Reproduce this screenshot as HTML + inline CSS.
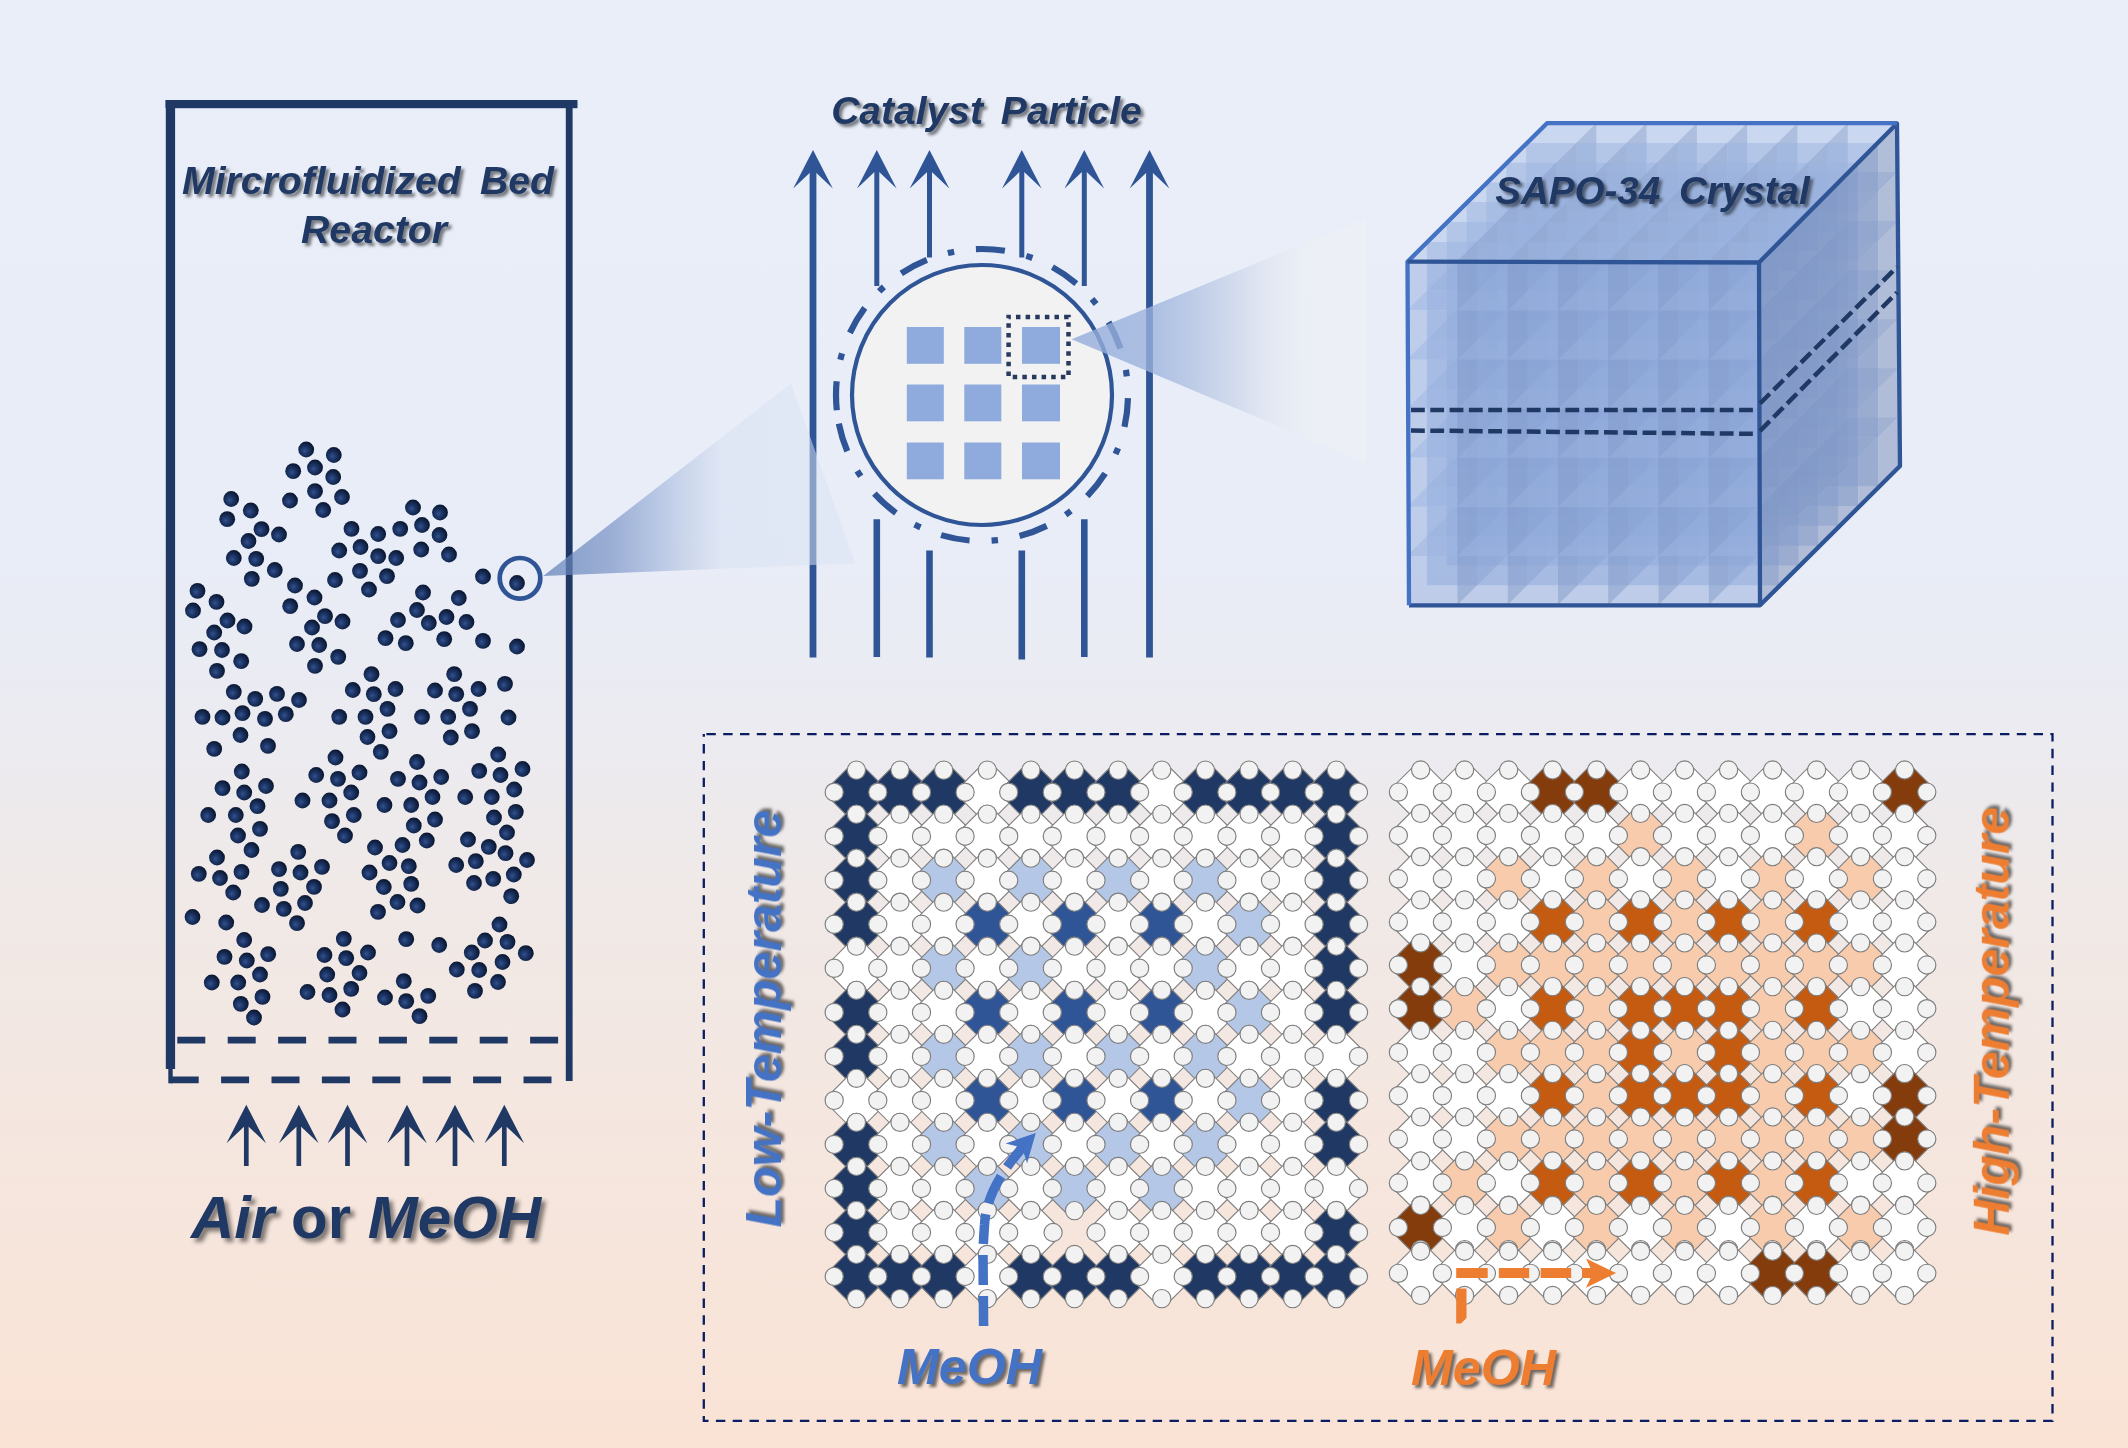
<!DOCTYPE html>
<html><head><meta charset="utf-8"><title>Diagram</title>
<style>html,body{margin:0;padding:0;background:#e9edf8;}body{width:2128px;height:1448px;overflow:hidden;}svg{display:block;}text{font-family:"Liberation Sans",sans-serif;font-weight:bold;font-style:italic;}.sh{filter:drop-shadow(3.2px 3.2px 1.5px rgba(0,0,0,.5));}.sh2{filter:drop-shadow(3.7px 3.7px 1.6px rgba(0,0,0,.55));}.sh3{filter:drop-shadow(4.4px 4.4px 2.2px rgba(0,0,0,.48));}</style></head><body>
<svg width="2128" height="1448" viewBox="0 0 2128 1448">
<defs>
<linearGradient id="bg" x1="0" y1="0" x2="0" y2="1"><stop offset="0" stop-color="#e9eef9"/><stop offset=".36" stop-color="#e8edf8"/><stop offset=".5" stop-color="#ebebf1"/><stop offset=".62" stop-color="#f0e9e7"/><stop offset=".8" stop-color="#f5e6de"/><stop offset="1" stop-color="#fae3d5"/></linearGradient>
<radialGradient id="dg" cx=".41" cy=".58" r=".62"><stop offset="0" stop-color="#35528b"/><stop offset=".28" stop-color="#213c71"/><stop offset=".62" stop-color="#14284f"/><stop offset="1" stop-color="#09132a"/></radialGradient>
<circle id="d" r="7.9" fill="url(#dg)"/>
<g id="cc" fill="#f2f2f2" stroke="#7f7f7f" stroke-width="1.15"><circle cx="0" cy="-22.1" r="9.1"/><circle cx="-22.2" cy="0" r="9.1"/><circle cx="22.2" cy="0" r="9.1"/><circle cx="0" cy="22.1" r="9.1"/></g>
<linearGradient id="c1" gradientUnits="userSpaceOnUse" x1="543" y1="0" x2="855" y2="0"><stop offset="0" stop-color="#5f80b8" stop-opacity="0.73"/><stop offset="0.22" stop-color="#7690c4" stop-opacity="0.68"/><stop offset="0.34" stop-color="#96acd6" stop-opacity="0.65"/><stop offset="0.45" stop-color="#b8c7e4" stop-opacity="0.62"/><stop offset="0.57" stop-color="#d8e1f2" stop-opacity="0.59"/><stop offset="1" stop-color="#dae3f3" stop-opacity="0.5"/></linearGradient>
<linearGradient id="c2" gradientUnits="userSpaceOnUse" x1="1071" y1="0" x2="1366" y2="0"><stop offset="0" stop-color="#93aada" stop-opacity="0.8"/><stop offset="0.27" stop-color="#9bb2dc" stop-opacity="0.78"/><stop offset="0.4" stop-color="#a8bbdf" stop-opacity="0.7"/><stop offset="0.53" stop-color="#c0cde4" stop-opacity="0.65"/><stop offset="0.66" stop-color="#dde2ee" stop-opacity="0.58"/><stop offset="0.8" stop-color="#eef0f3" stop-opacity="0.5"/><stop offset="1" stop-color="#f2f2f3" stop-opacity="0.4"/></linearGradient>
</defs>
<rect width="2128" height="1448" fill="url(#bg)"/>
<g id="reactor">
<rect x="165.5" y="100" width="412" height="8.2" fill="#203864"/>
<rect x="165.8" y="100" width="9.3" height="969" fill="#203864"/>
<rect x="168.3" y="1068" width="4.4" height="15.3" fill="#203864"/>
<rect x="565.8" y="100" width="6.8" height="981" fill="#203864"/>
<path d="M177.3 1040.2H566" stroke="#203864" stroke-width="6.7" stroke-dasharray="28 22.4" fill="none"/>
<path d="M170.7 1079.9H566" stroke="#203864" stroke-width="6.9" stroke-dasharray="28 22.4" fill="none"/>
<use href="#d" x="306.2" y="449.5"/>
<use href="#d" x="333.8" y="455.0"/>
<use href="#d" x="293.2" y="471.2"/>
<use href="#d" x="315.0" y="467.5"/>
<use href="#d" x="333.2" y="477.0"/>
<use href="#d" x="315.0" y="491.2"/>
<use href="#d" x="342.0" y="497.0"/>
<use href="#d" x="290.0" y="500.5"/>
<use href="#d" x="323.2" y="510.0"/>
<use href="#d" x="231.2" y="499.0"/>
<use href="#d" x="250.8" y="510.5"/>
<use href="#d" x="227.2" y="519.2"/>
<use href="#d" x="261.5" y="529.2"/>
<use href="#d" x="279.0" y="534.5"/>
<use href="#d" x="248.5" y="541.0"/>
<use href="#d" x="233.8" y="558.0"/>
<use href="#d" x="256.2" y="558.8"/>
<use href="#d" x="274.8" y="570.0"/>
<use href="#d" x="251.8" y="578.8"/>
<use href="#d" x="351.5" y="528.8"/>
<use href="#d" x="378.2" y="534.0"/>
<use href="#d" x="400.2" y="528.8"/>
<use href="#d" x="413.0" y="507.5"/>
<use href="#d" x="440.0" y="512.5"/>
<use href="#d" x="422.0" y="525.0"/>
<use href="#d" x="439.5" y="535.0"/>
<use href="#d" x="421.2" y="549.5"/>
<use href="#d" x="449.0" y="554.5"/>
<use href="#d" x="339.2" y="550.5"/>
<use href="#d" x="360.5" y="547.0"/>
<use href="#d" x="378.2" y="556.2"/>
<use href="#d" x="396.2" y="558.0"/>
<use href="#d" x="360.0" y="570.8"/>
<use href="#d" x="387.0" y="576.2"/>
<use href="#d" x="335.0" y="580.0"/>
<use href="#d" x="369.0" y="589.5"/>
<use href="#d" x="483.0" y="576.5"/>
<use href="#d" x="517.0" y="583.0"/>
<use href="#d" x="295.0" y="585.5"/>
<use href="#d" x="314.5" y="597.5"/>
<use href="#d" x="290.2" y="606.2"/>
<use href="#d" x="325.0" y="616.2"/>
<use href="#d" x="342.5" y="621.5"/>
<use href="#d" x="312.0" y="627.5"/>
<use href="#d" x="297.0" y="644.0"/>
<use href="#d" x="319.2" y="645.0"/>
<use href="#d" x="338.2" y="656.8"/>
<use href="#d" x="315.0" y="665.8"/>
<use href="#d" x="197.5" y="590.8"/>
<use href="#d" x="216.5" y="601.8"/>
<use href="#d" x="193.0" y="610.5"/>
<use href="#d" x="227.5" y="620.5"/>
<use href="#d" x="244.5" y="626.5"/>
<use href="#d" x="214.2" y="632.5"/>
<use href="#d" x="199.5" y="649.2"/>
<use href="#d" x="222.0" y="650.0"/>
<use href="#d" x="241.2" y="661.2"/>
<use href="#d" x="217.0" y="670.8"/>
<use href="#d" x="423.0" y="592.5"/>
<use href="#d" x="458.8" y="598.0"/>
<use href="#d" x="417.0" y="610.0"/>
<use href="#d" x="398.0" y="620.0"/>
<use href="#d" x="428.8" y="623.0"/>
<use href="#d" x="446.5" y="617.0"/>
<use href="#d" x="466.5" y="622.0"/>
<use href="#d" x="385.5" y="638.2"/>
<use href="#d" x="405.8" y="643.2"/>
<use href="#d" x="444.2" y="639.2"/>
<use href="#d" x="483.0" y="640.8"/>
<use href="#d" x="517.0" y="646.5"/>
<use href="#d" x="371.5" y="674.2"/>
<use href="#d" x="352.8" y="690.0"/>
<use href="#d" x="373.8" y="694.2"/>
<use href="#d" x="395.5" y="689.0"/>
<use href="#d" x="387.5" y="708.8"/>
<use href="#d" x="339.2" y="716.8"/>
<use href="#d" x="365.5" y="716.8"/>
<use href="#d" x="454.2" y="674.2"/>
<use href="#d" x="435.0" y="690.5"/>
<use href="#d" x="456.2" y="694.2"/>
<use href="#d" x="478.5" y="689.0"/>
<use href="#d" x="505.0" y="683.8"/>
<use href="#d" x="470.0" y="708.8"/>
<use href="#d" x="422.0" y="716.8"/>
<use href="#d" x="448.2" y="716.8"/>
<use href="#d" x="508.5" y="717.5"/>
<use href="#d" x="233.8" y="691.8"/>
<use href="#d" x="255.2" y="698.8"/>
<use href="#d" x="277.0" y="693.8"/>
<use href="#d" x="299.0" y="700.0"/>
<use href="#d" x="202.5" y="716.8"/>
<use href="#d" x="222.5" y="717.5"/>
<use href="#d" x="242.5" y="713.2"/>
<use href="#d" x="265.0" y="718.8"/>
<use href="#d" x="285.8" y="714.2"/>
<use href="#d" x="240.5" y="735.0"/>
<use href="#d" x="214.2" y="748.8"/>
<use href="#d" x="268.0" y="745.8"/>
<use href="#d" x="389.5" y="731.2"/>
<use href="#d" x="367.5" y="737.0"/>
<use href="#d" x="380.8" y="751.8"/>
<use href="#d" x="472.0" y="731.2"/>
<use href="#d" x="450.8" y="737.5"/>
<use href="#d" x="335.5" y="757.5"/>
<use href="#d" x="316.2" y="775.0"/>
<use href="#d" x="338.0" y="778.8"/>
<use href="#d" x="359.5" y="772.5"/>
<use href="#d" x="351.2" y="792.5"/>
<use href="#d" x="302.5" y="800.5"/>
<use href="#d" x="329.5" y="800.5"/>
<use href="#d" x="353.8" y="815.0"/>
<use href="#d" x="332.0" y="821.2"/>
<use href="#d" x="345.0" y="835.5"/>
<use href="#d" x="417.0" y="762.0"/>
<use href="#d" x="398.0" y="778.8"/>
<use href="#d" x="419.5" y="782.5"/>
<use href="#d" x="441.2" y="777.0"/>
<use href="#d" x="432.5" y="797.0"/>
<use href="#d" x="384.5" y="805.0"/>
<use href="#d" x="411.2" y="805.0"/>
<use href="#d" x="435.0" y="819.5"/>
<use href="#d" x="413.8" y="825.5"/>
<use href="#d" x="426.8" y="840.5"/>
<use href="#d" x="498.2" y="754.5"/>
<use href="#d" x="479.2" y="770.8"/>
<use href="#d" x="500.5" y="775.0"/>
<use href="#d" x="522.5" y="769.0"/>
<use href="#d" x="514.2" y="789.5"/>
<use href="#d" x="465.2" y="797.0"/>
<use href="#d" x="491.8" y="797.0"/>
<use href="#d" x="515.8" y="811.8"/>
<use href="#d" x="494.0" y="817.5"/>
<use href="#d" x="507.0" y="832.5"/>
<use href="#d" x="241.8" y="771.5"/>
<use href="#d" x="222.5" y="788.2"/>
<use href="#d" x="244.2" y="792.5"/>
<use href="#d" x="266.0" y="786.0"/>
<use href="#d" x="257.5" y="806.2"/>
<use href="#d" x="208.2" y="815.0"/>
<use href="#d" x="235.8" y="815.0"/>
<use href="#d" x="260.0" y="828.8"/>
<use href="#d" x="238.0" y="835.5"/>
<use href="#d" x="251.5" y="850.0"/>
<use href="#d" x="217.0" y="857.5"/>
<use href="#d" x="198.8" y="873.8"/>
<use href="#d" x="220.0" y="878.0"/>
<use href="#d" x="241.5" y="871.8"/>
<use href="#d" x="233.2" y="892.5"/>
<use href="#d" x="298.2" y="851.8"/>
<use href="#d" x="279.0" y="869.2"/>
<use href="#d" x="300.5" y="872.5"/>
<use href="#d" x="322.0" y="866.8"/>
<use href="#d" x="314.0" y="886.8"/>
<use href="#d" x="280.8" y="888.8"/>
<use href="#d" x="262.0" y="905.0"/>
<use href="#d" x="283.8" y="908.8"/>
<use href="#d" x="305.0" y="903.0"/>
<use href="#d" x="297.0" y="923.2"/>
<use href="#d" x="375.0" y="847.5"/>
<use href="#d" x="402.5" y="845.0"/>
<use href="#d" x="389.5" y="863.0"/>
<use href="#d" x="408.8" y="866.2"/>
<use href="#d" x="369.5" y="872.5"/>
<use href="#d" x="383.8" y="887.0"/>
<use href="#d" x="411.2" y="883.8"/>
<use href="#d" x="397.5" y="902.0"/>
<use href="#d" x="417.5" y="905.5"/>
<use href="#d" x="378.0" y="911.8"/>
<use href="#d" x="468.0" y="839.5"/>
<use href="#d" x="488.8" y="846.8"/>
<use href="#d" x="505.5" y="853.2"/>
<use href="#d" x="527.0" y="860.0"/>
<use href="#d" x="456.2" y="865.0"/>
<use href="#d" x="475.8" y="861.2"/>
<use href="#d" x="513.8" y="874.5"/>
<use href="#d" x="493.2" y="878.8"/>
<use href="#d" x="474.0" y="883.0"/>
<use href="#d" x="511.2" y="896.2"/>
<use href="#d" x="192.5" y="917.0"/>
<use href="#d" x="226.2" y="922.5"/>
<use href="#d" x="244.2" y="940.0"/>
<use href="#d" x="224.5" y="956.8"/>
<use href="#d" x="246.8" y="960.5"/>
<use href="#d" x="268.2" y="954.2"/>
<use href="#d" x="260.0" y="974.5"/>
<use href="#d" x="211.8" y="982.5"/>
<use href="#d" x="238.2" y="982.5"/>
<use href="#d" x="262.5" y="996.8"/>
<use href="#d" x="240.8" y="1003.8"/>
<use href="#d" x="254.0" y="1017.5"/>
<use href="#d" x="343.8" y="938.8"/>
<use href="#d" x="324.5" y="955.0"/>
<use href="#d" x="346.2" y="958.2"/>
<use href="#d" x="368.0" y="952.5"/>
<use href="#d" x="359.5" y="973.0"/>
<use href="#d" x="327.2" y="974.5"/>
<use href="#d" x="351.2" y="988.8"/>
<use href="#d" x="307.5" y="992.0"/>
<use href="#d" x="329.5" y="995.0"/>
<use href="#d" x="342.5" y="1009.5"/>
<use href="#d" x="406.2" y="939.2"/>
<use href="#d" x="439.2" y="945.0"/>
<use href="#d" x="403.8" y="981.2"/>
<use href="#d" x="385.0" y="997.5"/>
<use href="#d" x="406.2" y="1001.2"/>
<use href="#d" x="428.2" y="995.8"/>
<use href="#d" x="419.5" y="1016.2"/>
<use href="#d" x="499.5" y="924.5"/>
<use href="#d" x="485.0" y="940.5"/>
<use href="#d" x="507.5" y="941.8"/>
<use href="#d" x="471.8" y="952.5"/>
<use href="#d" x="525.8" y="953.2"/>
<use href="#d" x="502.5" y="962.0"/>
<use href="#d" x="456.8" y="969.5"/>
<use href="#d" x="479.2" y="970.0"/>
<use href="#d" x="498.0" y="982.0"/>
<use href="#d" x="475.0" y="990.8"/>
<circle cx="520" cy="578.3" r="20.3" fill="none" stroke="#2f5597" stroke-width="4.7"/>
<g class="sh" fill="#203864" font-size="39.2" text-anchor="middle"><text x="368" y="194" word-spacing="8.4">Mircrofluidized Bed</text><text x="374" y="243">Reactor</text></g>
<path d="M246.3 1122.5V1166" stroke="#203864" stroke-width="4.7" fill="none"/><path d="M246.3 1104.7L266.1 1143.3L246.3 1124.5L226.5 1143.3Z" fill="#203864"/>
<path d="M298.8 1122.5V1166" stroke="#203864" stroke-width="4.7" fill="none"/><path d="M298.8 1104.7L318.6 1143.3L298.8 1124.5L279.0 1143.3Z" fill="#203864"/>
<path d="M347.5 1122.5V1166" stroke="#203864" stroke-width="4.7" fill="none"/><path d="M347.5 1104.7L367.3 1143.3L347.5 1124.5L327.7 1143.3Z" fill="#203864"/>
<path d="M407 1122.5V1166" stroke="#203864" stroke-width="4.7" fill="none"/><path d="M407 1104.7L426.8 1143.3L407 1124.5L387.2 1143.3Z" fill="#203864"/>
<path d="M455 1122.5V1166" stroke="#203864" stroke-width="4.7" fill="none"/><path d="M455 1104.7L474.8 1143.3L455 1124.5L435.2 1143.3Z" fill="#203864"/>
<path d="M504.3 1122.5V1166" stroke="#203864" stroke-width="4.7" fill="none"/><path d="M504.3 1104.7L524.1 1143.3L504.3 1124.5L484.5 1143.3Z" fill="#203864"/>
<g class="sh3" fill="#203864" font-size="60"><text x="191" y="1237.5">Air <tspan font-style="normal">or</tspan> MeOH</text></g>
</g>
<g id="particle">
<path d="M813 167.8V657.5" stroke="#2f5597" stroke-width="6.8" fill="none"/><path d="M813 150L832.8 188.6L813 169.8L793.2 188.6Z" fill="#2f5597"/>
<path d="M1149.5 167.8V657.5" stroke="#2f5597" stroke-width="6.8" fill="none"/><path d="M1149.5 150L1169.3 188.6L1149.5 169.8L1129.7 188.6Z" fill="#2f5597"/>
<path d="M876.8 167.8V286" stroke="#2f5597" stroke-width="5" fill="none"/><path d="M876.8 150L896.5999999999999 188.6L876.8 169.8L857.0 188.6Z" fill="#2f5597"/>
<path d="M1084.3 167.8V286" stroke="#2f5597" stroke-width="5" fill="none"/><path d="M1084.3 150L1104.1 188.6L1084.3 169.8L1064.5 188.6Z" fill="#2f5597"/>
<path d="M929.5 167.8V257.5" stroke="#2f5597" stroke-width="5" fill="none"/><path d="M929.5 150L949.3 188.6L929.5 169.8L909.7 188.6Z" fill="#2f5597"/>
<path d="M1021.8 167.8V257.5" stroke="#2f5597" stroke-width="5" fill="none"/><path d="M1021.8 150L1041.6 188.6L1021.8 169.8L1002.0 188.6Z" fill="#2f5597"/>
<path d="M876.8 519.3V657M1084.3 519.3V657M929.5 550.5V657.5M1021.8 550.5V659.5" stroke="#2f5597" stroke-width="6.6" fill="none"/>
<circle cx="982" cy="395" r="146" fill="none" stroke="#2f5597" stroke-width="6.2" stroke-dasharray="29 22 6.5 22" transform="rotate(174 982 395)"/>
<circle cx="982" cy="395" r="130" fill="#f2f2f2" stroke="#2f5597" stroke-width="4.2"/>
<rect x="906.8" y="327" width="37" height="36.8" fill="#8faadc"/>
<rect x="964.3" y="327" width="37" height="36.8" fill="#8faadc"/>
<rect x="1022" y="327" width="38" height="36.8" fill="#8faadc"/>
<rect x="906.8" y="384.5" width="37" height="36.8" fill="#8faadc"/>
<rect x="964.3" y="384.5" width="37" height="36.8" fill="#8faadc"/>
<rect x="1022" y="384.5" width="38" height="36.8" fill="#8faadc"/>
<rect x="906.8" y="442.5" width="37" height="36.8" fill="#8faadc"/>
<rect x="964.3" y="442.5" width="37" height="36.8" fill="#8faadc"/>
<rect x="1022" y="442.5" width="38" height="36.8" fill="#8faadc"/>
<path d="M1008.6 317.1H1068.5V377H1008.6Z" fill="none" stroke="#27395f" stroke-width="4.5" stroke-dasharray="4.5 5.13" stroke-dashoffset="2.25"/>
<g class="sh" fill="#203864" font-size="39" text-anchor="middle"><text x="986.5" y="124" word-spacing="7.1">Catalyst Particle</text></g>
</g>
<path d="M543.2 576L791 383.5L855.3 563.2Z" fill="url(#c1)"/>
<path d="M1071.6 339.3L1366 218V463Z" fill="url(#c2)"/>
<g id="cube">
<defs><g id="sc"><path d="M0 0h50.29v49.07h-50.29z" fill="#8faadc"/><path d="M0 0l19.86 -19.79h50.29l-19.86 19.79z" fill="#a9bfe6"/><path d="M50.29 0l19.86 -19.79v49.07l-19.86 19.79z" fill="#7489b5"/></g></defs>
<g opacity="1">
<use href="#sc" x="1526.1" y="437.2" opacity=".47"/>
<use href="#sc" x="1576.4" y="437.2" opacity=".47"/>
<use href="#sc" x="1626.7" y="437.2" opacity=".47"/>
<use href="#sc" x="1677.0" y="437.2" opacity=".47"/>
<use href="#sc" x="1727.3" y="437.2" opacity=".47"/>
<use href="#sc" x="1777.6" y="437.2" opacity=".47"/>
<use href="#sc" x="1827.9" y="437.2" opacity=".47"/>
<use href="#sc" x="1526.1" y="388.1" opacity=".47"/>
<use href="#sc" x="1576.4" y="388.1" opacity=".47"/>
<use href="#sc" x="1626.7" y="388.1" opacity=".47"/>
<use href="#sc" x="1677.0" y="388.1" opacity=".47"/>
<use href="#sc" x="1727.3" y="388.1" opacity=".47"/>
<use href="#sc" x="1777.6" y="388.1" opacity=".47"/>
<use href="#sc" x="1827.9" y="388.1" opacity=".47"/>
<use href="#sc" x="1526.1" y="339.1" opacity=".47"/>
<use href="#sc" x="1576.4" y="339.1" opacity=".47"/>
<use href="#sc" x="1626.7" y="339.1" opacity=".47"/>
<use href="#sc" x="1677.0" y="339.1" opacity=".47"/>
<use href="#sc" x="1727.3" y="339.1" opacity=".47"/>
<use href="#sc" x="1777.6" y="339.1" opacity=".47"/>
<use href="#sc" x="1827.9" y="339.1" opacity=".47"/>
<use href="#sc" x="1526.1" y="290.0" opacity=".47"/>
<use href="#sc" x="1576.4" y="290.0" opacity=".47"/>
<use href="#sc" x="1626.7" y="290.0" opacity=".47"/>
<use href="#sc" x="1677.0" y="290.0" opacity=".47"/>
<use href="#sc" x="1727.3" y="290.0" opacity=".47"/>
<use href="#sc" x="1777.6" y="290.0" opacity=".47"/>
<use href="#sc" x="1827.9" y="290.0" opacity=".47"/>
<use href="#sc" x="1526.1" y="240.9" opacity=".47"/>
<use href="#sc" x="1576.4" y="240.9" opacity=".47"/>
<use href="#sc" x="1626.7" y="240.9" opacity=".47"/>
<use href="#sc" x="1677.0" y="240.9" opacity=".47"/>
<use href="#sc" x="1727.3" y="240.9" opacity=".47"/>
<use href="#sc" x="1777.6" y="240.9" opacity=".47"/>
<use href="#sc" x="1827.9" y="240.9" opacity=".47"/>
<use href="#sc" x="1526.1" y="191.9" opacity=".47"/>
<use href="#sc" x="1576.4" y="191.9" opacity=".47"/>
<use href="#sc" x="1626.7" y="191.9" opacity=".47"/>
<use href="#sc" x="1677.0" y="191.9" opacity=".47"/>
<use href="#sc" x="1727.3" y="191.9" opacity=".47"/>
<use href="#sc" x="1777.6" y="191.9" opacity=".47"/>
<use href="#sc" x="1827.9" y="191.9" opacity=".47"/>
<use href="#sc" x="1526.1" y="142.8" opacity=".47"/>
<use href="#sc" x="1576.4" y="142.8" opacity=".47"/>
<use href="#sc" x="1626.7" y="142.8" opacity=".47"/>
<use href="#sc" x="1677.0" y="142.8" opacity=".47"/>
<use href="#sc" x="1727.3" y="142.8" opacity=".47"/>
<use href="#sc" x="1777.6" y="142.8" opacity=".47"/>
<use href="#sc" x="1827.9" y="142.8" opacity=".47"/>
<use href="#sc" x="1506.3" y="457.0" opacity=".47"/>
<use href="#sc" x="1556.6" y="457.0" opacity=".47"/>
<use href="#sc" x="1606.9" y="457.0" opacity=".47"/>
<use href="#sc" x="1657.1" y="457.0" opacity=".47"/>
<use href="#sc" x="1707.4" y="457.0" opacity=".47"/>
<use href="#sc" x="1757.7" y="457.0" opacity=".47"/>
<use href="#sc" x="1808.0" y="457.0" opacity=".47"/>
<use href="#sc" x="1506.3" y="407.9" opacity=".47"/>
<use href="#sc" x="1556.6" y="407.9" opacity=".47"/>
<use href="#sc" x="1606.9" y="407.9" opacity=".47"/>
<use href="#sc" x="1657.1" y="407.9" opacity=".47"/>
<use href="#sc" x="1707.4" y="407.9" opacity=".47"/>
<use href="#sc" x="1757.7" y="407.9" opacity=".47"/>
<use href="#sc" x="1808.0" y="407.9" opacity=".47"/>
<use href="#sc" x="1506.3" y="358.9" opacity=".47"/>
<use href="#sc" x="1556.6" y="358.9" opacity=".47"/>
<use href="#sc" x="1606.9" y="358.9" opacity=".47"/>
<use href="#sc" x="1657.1" y="358.9" opacity=".47"/>
<use href="#sc" x="1707.4" y="358.9" opacity=".47"/>
<use href="#sc" x="1757.7" y="358.9" opacity=".47"/>
<use href="#sc" x="1808.0" y="358.9" opacity=".47"/>
<use href="#sc" x="1506.3" y="309.8" opacity=".47"/>
<use href="#sc" x="1556.6" y="309.8" opacity=".47"/>
<use href="#sc" x="1606.9" y="309.8" opacity=".47"/>
<use href="#sc" x="1657.1" y="309.8" opacity=".47"/>
<use href="#sc" x="1707.4" y="309.8" opacity=".47"/>
<use href="#sc" x="1757.7" y="309.8" opacity=".47"/>
<use href="#sc" x="1808.0" y="309.8" opacity=".47"/>
<use href="#sc" x="1506.3" y="260.7" opacity=".47"/>
<use href="#sc" x="1556.6" y="260.7" opacity=".47"/>
<use href="#sc" x="1606.9" y="260.7" opacity=".47"/>
<use href="#sc" x="1657.1" y="260.7" opacity=".47"/>
<use href="#sc" x="1707.4" y="260.7" opacity=".47"/>
<use href="#sc" x="1757.7" y="260.7" opacity=".47"/>
<use href="#sc" x="1808.0" y="260.7" opacity=".47"/>
<use href="#sc" x="1506.3" y="211.6" opacity=".47"/>
<use href="#sc" x="1556.6" y="211.6" opacity=".47"/>
<use href="#sc" x="1606.9" y="211.6" opacity=".47"/>
<use href="#sc" x="1657.1" y="211.6" opacity=".47"/>
<use href="#sc" x="1707.4" y="211.6" opacity=".47"/>
<use href="#sc" x="1757.7" y="211.6" opacity=".47"/>
<use href="#sc" x="1808.0" y="211.6" opacity=".47"/>
<use href="#sc" x="1506.3" y="162.6" opacity=".47"/>
<use href="#sc" x="1556.6" y="162.6" opacity=".47"/>
<use href="#sc" x="1606.9" y="162.6" opacity=".47"/>
<use href="#sc" x="1657.1" y="162.6" opacity=".47"/>
<use href="#sc" x="1707.4" y="162.6" opacity=".47"/>
<use href="#sc" x="1757.7" y="162.6" opacity=".47"/>
<use href="#sc" x="1808.0" y="162.6" opacity=".47"/>
<use href="#sc" x="1486.4" y="476.8" opacity=".47"/>
<use href="#sc" x="1536.7" y="476.8" opacity=".47"/>
<use href="#sc" x="1587.0" y="476.8" opacity=".47"/>
<use href="#sc" x="1637.3" y="476.8" opacity=".47"/>
<use href="#sc" x="1687.6" y="476.8" opacity=".47"/>
<use href="#sc" x="1737.9" y="476.8" opacity=".47"/>
<use href="#sc" x="1788.1" y="476.8" opacity=".47"/>
<use href="#sc" x="1486.4" y="427.7" opacity=".47"/>
<use href="#sc" x="1536.7" y="427.7" opacity=".47"/>
<use href="#sc" x="1587.0" y="427.7" opacity=".47"/>
<use href="#sc" x="1637.3" y="427.7" opacity=".47"/>
<use href="#sc" x="1687.6" y="427.7" opacity=".47"/>
<use href="#sc" x="1737.9" y="427.7" opacity=".47"/>
<use href="#sc" x="1788.1" y="427.7" opacity=".47"/>
<use href="#sc" x="1486.4" y="378.6" opacity=".47"/>
<use href="#sc" x="1536.7" y="378.6" opacity=".47"/>
<use href="#sc" x="1587.0" y="378.6" opacity=".47"/>
<use href="#sc" x="1637.3" y="378.6" opacity=".47"/>
<use href="#sc" x="1687.6" y="378.6" opacity=".47"/>
<use href="#sc" x="1737.9" y="378.6" opacity=".47"/>
<use href="#sc" x="1788.1" y="378.6" opacity=".47"/>
<use href="#sc" x="1486.4" y="329.6" opacity=".47"/>
<use href="#sc" x="1536.7" y="329.6" opacity=".47"/>
<use href="#sc" x="1587.0" y="329.6" opacity=".47"/>
<use href="#sc" x="1637.3" y="329.6" opacity=".47"/>
<use href="#sc" x="1687.6" y="329.6" opacity=".47"/>
<use href="#sc" x="1737.9" y="329.6" opacity=".47"/>
<use href="#sc" x="1788.1" y="329.6" opacity=".47"/>
<use href="#sc" x="1486.4" y="280.5" opacity=".47"/>
<use href="#sc" x="1536.7" y="280.5" opacity=".47"/>
<use href="#sc" x="1587.0" y="280.5" opacity=".47"/>
<use href="#sc" x="1637.3" y="280.5" opacity=".47"/>
<use href="#sc" x="1687.6" y="280.5" opacity=".47"/>
<use href="#sc" x="1737.9" y="280.5" opacity=".47"/>
<use href="#sc" x="1788.1" y="280.5" opacity=".47"/>
<use href="#sc" x="1486.4" y="231.4" opacity=".47"/>
<use href="#sc" x="1536.7" y="231.4" opacity=".47"/>
<use href="#sc" x="1587.0" y="231.4" opacity=".47"/>
<use href="#sc" x="1637.3" y="231.4" opacity=".47"/>
<use href="#sc" x="1687.6" y="231.4" opacity=".47"/>
<use href="#sc" x="1737.9" y="231.4" opacity=".47"/>
<use href="#sc" x="1788.1" y="231.4" opacity=".47"/>
<use href="#sc" x="1486.4" y="182.4" opacity=".47"/>
<use href="#sc" x="1536.7" y="182.4" opacity=".47"/>
<use href="#sc" x="1587.0" y="182.4" opacity=".47"/>
<use href="#sc" x="1637.3" y="182.4" opacity=".47"/>
<use href="#sc" x="1687.6" y="182.4" opacity=".47"/>
<use href="#sc" x="1737.9" y="182.4" opacity=".47"/>
<use href="#sc" x="1788.1" y="182.4" opacity=".47"/>
<use href="#sc" x="1466.6" y="496.6" opacity=".47"/>
<use href="#sc" x="1516.9" y="496.6" opacity=".47"/>
<use href="#sc" x="1567.1" y="496.6" opacity=".47"/>
<use href="#sc" x="1617.4" y="496.6" opacity=".47"/>
<use href="#sc" x="1667.7" y="496.6" opacity=".47"/>
<use href="#sc" x="1718.0" y="496.6" opacity=".47"/>
<use href="#sc" x="1768.3" y="496.6" opacity=".47"/>
<use href="#sc" x="1466.6" y="447.5" opacity=".47"/>
<use href="#sc" x="1516.9" y="447.5" opacity=".47"/>
<use href="#sc" x="1567.1" y="447.5" opacity=".47"/>
<use href="#sc" x="1617.4" y="447.5" opacity=".47"/>
<use href="#sc" x="1667.7" y="447.5" opacity=".47"/>
<use href="#sc" x="1718.0" y="447.5" opacity=".47"/>
<use href="#sc" x="1768.3" y="447.5" opacity=".47"/>
<use href="#sc" x="1466.6" y="398.4" opacity=".47"/>
<use href="#sc" x="1516.9" y="398.4" opacity=".47"/>
<use href="#sc" x="1567.1" y="398.4" opacity=".47"/>
<use href="#sc" x="1617.4" y="398.4" opacity=".47"/>
<use href="#sc" x="1667.7" y="398.4" opacity=".47"/>
<use href="#sc" x="1718.0" y="398.4" opacity=".47"/>
<use href="#sc" x="1768.3" y="398.4" opacity=".47"/>
<use href="#sc" x="1466.6" y="349.4" opacity=".47"/>
<use href="#sc" x="1516.9" y="349.4" opacity=".47"/>
<use href="#sc" x="1567.1" y="349.4" opacity=".47"/>
<use href="#sc" x="1617.4" y="349.4" opacity=".47"/>
<use href="#sc" x="1667.7" y="349.4" opacity=".47"/>
<use href="#sc" x="1718.0" y="349.4" opacity=".47"/>
<use href="#sc" x="1768.3" y="349.4" opacity=".47"/>
<use href="#sc" x="1466.6" y="300.3" opacity=".47"/>
<use href="#sc" x="1516.9" y="300.3" opacity=".47"/>
<use href="#sc" x="1567.1" y="300.3" opacity=".47"/>
<use href="#sc" x="1617.4" y="300.3" opacity=".47"/>
<use href="#sc" x="1667.7" y="300.3" opacity=".47"/>
<use href="#sc" x="1718.0" y="300.3" opacity=".47"/>
<use href="#sc" x="1768.3" y="300.3" opacity=".47"/>
<use href="#sc" x="1466.6" y="251.2" opacity=".47"/>
<use href="#sc" x="1516.9" y="251.2" opacity=".47"/>
<use href="#sc" x="1567.1" y="251.2" opacity=".47"/>
<use href="#sc" x="1617.4" y="251.2" opacity=".47"/>
<use href="#sc" x="1667.7" y="251.2" opacity=".47"/>
<use href="#sc" x="1718.0" y="251.2" opacity=".47"/>
<use href="#sc" x="1768.3" y="251.2" opacity=".47"/>
<use href="#sc" x="1466.6" y="202.1" opacity=".47"/>
<use href="#sc" x="1516.9" y="202.1" opacity=".47"/>
<use href="#sc" x="1567.1" y="202.1" opacity=".47"/>
<use href="#sc" x="1617.4" y="202.1" opacity=".47"/>
<use href="#sc" x="1667.7" y="202.1" opacity=".47"/>
<use href="#sc" x="1718.0" y="202.1" opacity=".47"/>
<use href="#sc" x="1768.3" y="202.1" opacity=".47"/>
<use href="#sc" x="1446.7" y="516.4" opacity=".47"/>
<use href="#sc" x="1497.0" y="516.4" opacity=".47"/>
<use href="#sc" x="1547.3" y="516.4" opacity=".47"/>
<use href="#sc" x="1597.6" y="516.4" opacity=".47"/>
<use href="#sc" x="1647.9" y="516.4" opacity=".47"/>
<use href="#sc" x="1698.1" y="516.4" opacity=".47"/>
<use href="#sc" x="1748.4" y="516.4" opacity=".47"/>
<use href="#sc" x="1446.7" y="467.3" opacity=".47"/>
<use href="#sc" x="1497.0" y="467.3" opacity=".47"/>
<use href="#sc" x="1547.3" y="467.3" opacity=".47"/>
<use href="#sc" x="1597.6" y="467.3" opacity=".47"/>
<use href="#sc" x="1647.9" y="467.3" opacity=".47"/>
<use href="#sc" x="1698.1" y="467.3" opacity=".47"/>
<use href="#sc" x="1748.4" y="467.3" opacity=".47"/>
<use href="#sc" x="1446.7" y="418.2" opacity=".47"/>
<use href="#sc" x="1497.0" y="418.2" opacity=".47"/>
<use href="#sc" x="1547.3" y="418.2" opacity=".47"/>
<use href="#sc" x="1597.6" y="418.2" opacity=".47"/>
<use href="#sc" x="1647.9" y="418.2" opacity=".47"/>
<use href="#sc" x="1698.1" y="418.2" opacity=".47"/>
<use href="#sc" x="1748.4" y="418.2" opacity=".47"/>
<use href="#sc" x="1446.7" y="369.1" opacity=".47"/>
<use href="#sc" x="1497.0" y="369.1" opacity=".47"/>
<use href="#sc" x="1547.3" y="369.1" opacity=".47"/>
<use href="#sc" x="1597.6" y="369.1" opacity=".47"/>
<use href="#sc" x="1647.9" y="369.1" opacity=".47"/>
<use href="#sc" x="1698.1" y="369.1" opacity=".47"/>
<use href="#sc" x="1748.4" y="369.1" opacity=".47"/>
<use href="#sc" x="1446.7" y="320.1" opacity=".47"/>
<use href="#sc" x="1497.0" y="320.1" opacity=".47"/>
<use href="#sc" x="1547.3" y="320.1" opacity=".47"/>
<use href="#sc" x="1597.6" y="320.1" opacity=".47"/>
<use href="#sc" x="1647.9" y="320.1" opacity=".47"/>
<use href="#sc" x="1698.1" y="320.1" opacity=".47"/>
<use href="#sc" x="1748.4" y="320.1" opacity=".47"/>
<use href="#sc" x="1446.7" y="271.0" opacity=".47"/>
<use href="#sc" x="1497.0" y="271.0" opacity=".47"/>
<use href="#sc" x="1547.3" y="271.0" opacity=".47"/>
<use href="#sc" x="1597.6" y="271.0" opacity=".47"/>
<use href="#sc" x="1647.9" y="271.0" opacity=".47"/>
<use href="#sc" x="1698.1" y="271.0" opacity=".47"/>
<use href="#sc" x="1748.4" y="271.0" opacity=".47"/>
<use href="#sc" x="1446.7" y="221.9" opacity=".47"/>
<use href="#sc" x="1497.0" y="221.9" opacity=".47"/>
<use href="#sc" x="1547.3" y="221.9" opacity=".47"/>
<use href="#sc" x="1597.6" y="221.9" opacity=".47"/>
<use href="#sc" x="1647.9" y="221.9" opacity=".47"/>
<use href="#sc" x="1698.1" y="221.9" opacity=".47"/>
<use href="#sc" x="1748.4" y="221.9" opacity=".47"/>
<use href="#sc" x="1426.9" y="536.1" opacity=".47"/>
<use href="#sc" x="1477.1" y="536.1" opacity=".47"/>
<use href="#sc" x="1527.4" y="536.1" opacity=".47"/>
<use href="#sc" x="1577.7" y="536.1" opacity=".47"/>
<use href="#sc" x="1628.0" y="536.1" opacity=".47"/>
<use href="#sc" x="1678.3" y="536.1" opacity=".47"/>
<use href="#sc" x="1728.6" y="536.1" opacity=".47"/>
<use href="#sc" x="1426.9" y="487.1" opacity=".47"/>
<use href="#sc" x="1477.1" y="487.1" opacity=".47"/>
<use href="#sc" x="1527.4" y="487.1" opacity=".47"/>
<use href="#sc" x="1577.7" y="487.1" opacity=".47"/>
<use href="#sc" x="1628.0" y="487.1" opacity=".47"/>
<use href="#sc" x="1678.3" y="487.1" opacity=".47"/>
<use href="#sc" x="1728.6" y="487.1" opacity=".47"/>
<use href="#sc" x="1426.9" y="438.0" opacity=".47"/>
<use href="#sc" x="1477.1" y="438.0" opacity=".47"/>
<use href="#sc" x="1527.4" y="438.0" opacity=".47"/>
<use href="#sc" x="1577.7" y="438.0" opacity=".47"/>
<use href="#sc" x="1628.0" y="438.0" opacity=".47"/>
<use href="#sc" x="1678.3" y="438.0" opacity=".47"/>
<use href="#sc" x="1728.6" y="438.0" opacity=".47"/>
<use href="#sc" x="1426.9" y="388.9" opacity=".47"/>
<use href="#sc" x="1477.1" y="388.9" opacity=".47"/>
<use href="#sc" x="1527.4" y="388.9" opacity=".47"/>
<use href="#sc" x="1577.7" y="388.9" opacity=".47"/>
<use href="#sc" x="1628.0" y="388.9" opacity=".47"/>
<use href="#sc" x="1678.3" y="388.9" opacity=".47"/>
<use href="#sc" x="1728.6" y="388.9" opacity=".47"/>
<use href="#sc" x="1426.9" y="339.9" opacity=".47"/>
<use href="#sc" x="1477.1" y="339.9" opacity=".47"/>
<use href="#sc" x="1527.4" y="339.9" opacity=".47"/>
<use href="#sc" x="1577.7" y="339.9" opacity=".47"/>
<use href="#sc" x="1628.0" y="339.9" opacity=".47"/>
<use href="#sc" x="1678.3" y="339.9" opacity=".47"/>
<use href="#sc" x="1728.6" y="339.9" opacity=".47"/>
<use href="#sc" x="1426.9" y="290.8" opacity=".47"/>
<use href="#sc" x="1477.1" y="290.8" opacity=".47"/>
<use href="#sc" x="1527.4" y="290.8" opacity=".47"/>
<use href="#sc" x="1577.7" y="290.8" opacity=".47"/>
<use href="#sc" x="1628.0" y="290.8" opacity=".47"/>
<use href="#sc" x="1678.3" y="290.8" opacity=".47"/>
<use href="#sc" x="1728.6" y="290.8" opacity=".47"/>
<use href="#sc" x="1426.9" y="241.7" opacity=".47"/>
<use href="#sc" x="1477.1" y="241.7" opacity=".47"/>
<use href="#sc" x="1527.4" y="241.7" opacity=".47"/>
<use href="#sc" x="1577.7" y="241.7" opacity=".47"/>
<use href="#sc" x="1628.0" y="241.7" opacity=".47"/>
<use href="#sc" x="1678.3" y="241.7" opacity=".47"/>
<use href="#sc" x="1728.6" y="241.7" opacity=".47"/>
<use href="#sc" x="1407.0" y="555.9" opacity=".47"/>
<use href="#sc" x="1457.3" y="555.9" opacity=".47"/>
<use href="#sc" x="1507.6" y="555.9" opacity=".47"/>
<use href="#sc" x="1557.9" y="555.9" opacity=".47"/>
<use href="#sc" x="1608.1" y="555.9" opacity=".47"/>
<use href="#sc" x="1658.4" y="555.9" opacity=".47"/>
<use href="#sc" x="1708.7" y="555.9" opacity=".47"/>
<use href="#sc" x="1407.0" y="506.9" opacity=".47"/>
<use href="#sc" x="1457.3" y="506.9" opacity=".47"/>
<use href="#sc" x="1507.6" y="506.9" opacity=".47"/>
<use href="#sc" x="1557.9" y="506.9" opacity=".47"/>
<use href="#sc" x="1608.1" y="506.9" opacity=".47"/>
<use href="#sc" x="1658.4" y="506.9" opacity=".47"/>
<use href="#sc" x="1708.7" y="506.9" opacity=".47"/>
<use href="#sc" x="1407.0" y="457.8" opacity=".47"/>
<use href="#sc" x="1457.3" y="457.8" opacity=".47"/>
<use href="#sc" x="1507.6" y="457.8" opacity=".47"/>
<use href="#sc" x="1557.9" y="457.8" opacity=".47"/>
<use href="#sc" x="1608.1" y="457.8" opacity=".47"/>
<use href="#sc" x="1658.4" y="457.8" opacity=".47"/>
<use href="#sc" x="1708.7" y="457.8" opacity=".47"/>
<use href="#sc" x="1407.0" y="408.7" opacity=".47"/>
<use href="#sc" x="1457.3" y="408.7" opacity=".47"/>
<use href="#sc" x="1507.6" y="408.7" opacity=".47"/>
<use href="#sc" x="1557.9" y="408.7" opacity=".47"/>
<use href="#sc" x="1608.1" y="408.7" opacity=".47"/>
<use href="#sc" x="1658.4" y="408.7" opacity=".47"/>
<use href="#sc" x="1708.7" y="408.7" opacity=".47"/>
<use href="#sc" x="1407.0" y="359.6" opacity=".47"/>
<use href="#sc" x="1457.3" y="359.6" opacity=".47"/>
<use href="#sc" x="1507.6" y="359.6" opacity=".47"/>
<use href="#sc" x="1557.9" y="359.6" opacity=".47"/>
<use href="#sc" x="1608.1" y="359.6" opacity=".47"/>
<use href="#sc" x="1658.4" y="359.6" opacity=".47"/>
<use href="#sc" x="1708.7" y="359.6" opacity=".47"/>
<use href="#sc" x="1407.0" y="310.6" opacity=".47"/>
<use href="#sc" x="1457.3" y="310.6" opacity=".47"/>
<use href="#sc" x="1507.6" y="310.6" opacity=".47"/>
<use href="#sc" x="1557.9" y="310.6" opacity=".47"/>
<use href="#sc" x="1608.1" y="310.6" opacity=".47"/>
<use href="#sc" x="1658.4" y="310.6" opacity=".47"/>
<use href="#sc" x="1708.7" y="310.6" opacity=".47"/>
<use href="#sc" x="1407.0" y="261.5" opacity=".47"/>
<use href="#sc" x="1457.3" y="261.5" opacity=".47"/>
<use href="#sc" x="1507.6" y="261.5" opacity=".47"/>
<use href="#sc" x="1557.9" y="261.5" opacity=".47"/>
<use href="#sc" x="1608.1" y="261.5" opacity=".47"/>
<use href="#sc" x="1658.4" y="261.5" opacity=".47"/>
<use href="#sc" x="1708.7" y="261.5" opacity=".47"/>
</g>
<g fill="none" stroke-width="4.3" stroke-linejoin="round"><path d="M1759 262.5L1897 123.5L1900 466L1760 605.3H1409" stroke="#2f5597"/><path d="M1409 605.3L1407.5 261.7L1547 123.2H1897" stroke="#4472c4"/><path d="M1407.5 261.7L1759 262.5L1760 605.3" stroke="#2f5597"/></g>
<g fill="none" stroke="#203864" stroke-width="4.5" stroke-dasharray="13.8 5.5"><path d="M1411 410H1754"/><path d="M1411 430.5L1757 433.8"/><path d="M1760 403.5L1897 267"/><path d="M1760 431L1897 292.5"/></g>
<g class="sh" fill="#203864" font-size="38.6" text-anchor="middle"><text x="1652.5" y="204" word-spacing="8">SAPO-34 Crystal</text></g>
</g>
<g id="panel">
<path d="M703.8 734.1H2052.5V1420.8H703.8Z" fill="none" stroke="#0a1d62" stroke-width="2.3" stroke-dasharray="9.4 7.4" stroke-dashoffset="-2.6"/>
<g transform="translate(856.4,792.2)"><path d="M-2.4 -30.4H2.4L30.4 -2.4V2.4L2.4 30.4H-2.4L-30.4 2.4V-2.4Z" fill="#203864" stroke="#7f7f7f" stroke-width="1.1"/><use href="#cc"/></g>
<g transform="translate(900.0,792.2)"><path d="M-2.4 -30.4H2.4L30.4 -2.4V2.4L2.4 30.4H-2.4L-30.4 2.4V-2.4Z" fill="#203864" stroke="#7f7f7f" stroke-width="1.1"/><use href="#cc"/></g>
<g transform="translate(943.7,792.2)"><path d="M-2.4 -30.4H2.4L30.4 -2.4V2.4L2.4 30.4H-2.4L-30.4 2.4V-2.4Z" fill="#203864" stroke="#7f7f7f" stroke-width="1.1"/><use href="#cc"/></g>
<g transform="translate(987.3,792.2)"><path d="M-2.4 -30.4H2.4L30.4 -2.4V2.4L2.4 30.4H-2.4L-30.4 2.4V-2.4Z" fill="#ffffff" stroke="#7f7f7f" stroke-width="1.1"/><use href="#cc"/></g>
<g transform="translate(1030.9,792.2)"><path d="M-2.4 -30.4H2.4L30.4 -2.4V2.4L2.4 30.4H-2.4L-30.4 2.4V-2.4Z" fill="#203864" stroke="#7f7f7f" stroke-width="1.1"/><use href="#cc"/></g>
<g transform="translate(1074.5,792.2)"><path d="M-2.4 -30.4H2.4L30.4 -2.4V2.4L2.4 30.4H-2.4L-30.4 2.4V-2.4Z" fill="#203864" stroke="#7f7f7f" stroke-width="1.1"/><use href="#cc"/></g>
<g transform="translate(1118.2,792.2)"><path d="M-2.4 -30.4H2.4L30.4 -2.4V2.4L2.4 30.4H-2.4L-30.4 2.4V-2.4Z" fill="#203864" stroke="#7f7f7f" stroke-width="1.1"/><use href="#cc"/></g>
<g transform="translate(1161.8,792.2)"><path d="M-2.4 -30.4H2.4L30.4 -2.4V2.4L2.4 30.4H-2.4L-30.4 2.4V-2.4Z" fill="#ffffff" stroke="#7f7f7f" stroke-width="1.1"/><use href="#cc"/></g>
<g transform="translate(1205.4,792.2)"><path d="M-2.4 -30.4H2.4L30.4 -2.4V2.4L2.4 30.4H-2.4L-30.4 2.4V-2.4Z" fill="#203864" stroke="#7f7f7f" stroke-width="1.1"/><use href="#cc"/></g>
<g transform="translate(1249.1,792.2)"><path d="M-2.4 -30.4H2.4L30.4 -2.4V2.4L2.4 30.4H-2.4L-30.4 2.4V-2.4Z" fill="#203864" stroke="#7f7f7f" stroke-width="1.1"/><use href="#cc"/></g>
<g transform="translate(1292.7,792.2)"><path d="M-2.4 -30.4H2.4L30.4 -2.4V2.4L2.4 30.4H-2.4L-30.4 2.4V-2.4Z" fill="#203864" stroke="#7f7f7f" stroke-width="1.1"/><use href="#cc"/></g>
<g transform="translate(1336.3,792.2)"><path d="M-2.4 -30.4H2.4L30.4 -2.4V2.4L2.4 30.4H-2.4L-30.4 2.4V-2.4Z" fill="#203864" stroke="#7f7f7f" stroke-width="1.1"/><use href="#cc"/></g>
<g transform="translate(856.4,836.2)"><path d="M-2.4 -30.4H2.4L30.4 -2.4V2.4L2.4 30.4H-2.4L-30.4 2.4V-2.4Z" fill="#203864" stroke="#7f7f7f" stroke-width="1.1"/><use href="#cc"/></g>
<g transform="translate(900.0,836.2)"><path d="M-2.4 -30.4H2.4L30.4 -2.4V2.4L2.4 30.4H-2.4L-30.4 2.4V-2.4Z" fill="#ffffff" stroke="#7f7f7f" stroke-width="1.1"/><use href="#cc"/></g>
<g transform="translate(943.7,836.2)"><path d="M-2.4 -30.4H2.4L30.4 -2.4V2.4L2.4 30.4H-2.4L-30.4 2.4V-2.4Z" fill="#ffffff" stroke="#7f7f7f" stroke-width="1.1"/><use href="#cc"/></g>
<g transform="translate(987.3,836.2)"><path d="M-2.4 -30.4H2.4L30.4 -2.4V2.4L2.4 30.4H-2.4L-30.4 2.4V-2.4Z" fill="#ffffff" stroke="#7f7f7f" stroke-width="1.1"/><use href="#cc"/></g>
<g transform="translate(1030.9,836.2)"><path d="M-2.4 -30.4H2.4L30.4 -2.4V2.4L2.4 30.4H-2.4L-30.4 2.4V-2.4Z" fill="#ffffff" stroke="#7f7f7f" stroke-width="1.1"/><use href="#cc"/></g>
<g transform="translate(1074.5,836.2)"><path d="M-2.4 -30.4H2.4L30.4 -2.4V2.4L2.4 30.4H-2.4L-30.4 2.4V-2.4Z" fill="#ffffff" stroke="#7f7f7f" stroke-width="1.1"/><use href="#cc"/></g>
<g transform="translate(1118.2,836.2)"><path d="M-2.4 -30.4H2.4L30.4 -2.4V2.4L2.4 30.4H-2.4L-30.4 2.4V-2.4Z" fill="#ffffff" stroke="#7f7f7f" stroke-width="1.1"/><use href="#cc"/></g>
<g transform="translate(1161.8,836.2)"><path d="M-2.4 -30.4H2.4L30.4 -2.4V2.4L2.4 30.4H-2.4L-30.4 2.4V-2.4Z" fill="#ffffff" stroke="#7f7f7f" stroke-width="1.1"/><use href="#cc"/></g>
<g transform="translate(1205.4,836.2)"><path d="M-2.4 -30.4H2.4L30.4 -2.4V2.4L2.4 30.4H-2.4L-30.4 2.4V-2.4Z" fill="#ffffff" stroke="#7f7f7f" stroke-width="1.1"/><use href="#cc"/></g>
<g transform="translate(1249.1,836.2)"><path d="M-2.4 -30.4H2.4L30.4 -2.4V2.4L2.4 30.4H-2.4L-30.4 2.4V-2.4Z" fill="#ffffff" stroke="#7f7f7f" stroke-width="1.1"/><use href="#cc"/></g>
<g transform="translate(1292.7,836.2)"><path d="M-2.4 -30.4H2.4L30.4 -2.4V2.4L2.4 30.4H-2.4L-30.4 2.4V-2.4Z" fill="#ffffff" stroke="#7f7f7f" stroke-width="1.1"/><use href="#cc"/></g>
<g transform="translate(1336.3,836.2)"><path d="M-2.4 -30.4H2.4L30.4 -2.4V2.4L2.4 30.4H-2.4L-30.4 2.4V-2.4Z" fill="#203864" stroke="#7f7f7f" stroke-width="1.1"/><use href="#cc"/></g>
<g transform="translate(856.4,880.3)"><path d="M-2.4 -30.4H2.4L30.4 -2.4V2.4L2.4 30.4H-2.4L-30.4 2.4V-2.4Z" fill="#203864" stroke="#7f7f7f" stroke-width="1.1"/><use href="#cc"/></g>
<g transform="translate(900.0,880.3)"><path d="M-2.4 -30.4H2.4L30.4 -2.4V2.4L2.4 30.4H-2.4L-30.4 2.4V-2.4Z" fill="#ffffff" stroke="#7f7f7f" stroke-width="1.1"/><use href="#cc"/></g>
<g transform="translate(943.7,880.3)"><path d="M-2.4 -30.4H2.4L30.4 -2.4V2.4L2.4 30.4H-2.4L-30.4 2.4V-2.4Z" fill="#b4c7e7" stroke="#7f7f7f" stroke-width="1.1"/><use href="#cc"/></g>
<g transform="translate(987.3,880.3)"><path d="M-2.4 -30.4H2.4L30.4 -2.4V2.4L2.4 30.4H-2.4L-30.4 2.4V-2.4Z" fill="#ffffff" stroke="#7f7f7f" stroke-width="1.1"/><use href="#cc"/></g>
<g transform="translate(1030.9,880.3)"><path d="M-2.4 -30.4H2.4L30.4 -2.4V2.4L2.4 30.4H-2.4L-30.4 2.4V-2.4Z" fill="#b4c7e7" stroke="#7f7f7f" stroke-width="1.1"/><use href="#cc"/></g>
<g transform="translate(1074.5,880.3)"><path d="M-2.4 -30.4H2.4L30.4 -2.4V2.4L2.4 30.4H-2.4L-30.4 2.4V-2.4Z" fill="#ffffff" stroke="#7f7f7f" stroke-width="1.1"/><use href="#cc"/></g>
<g transform="translate(1118.2,880.3)"><path d="M-2.4 -30.4H2.4L30.4 -2.4V2.4L2.4 30.4H-2.4L-30.4 2.4V-2.4Z" fill="#b4c7e7" stroke="#7f7f7f" stroke-width="1.1"/><use href="#cc"/></g>
<g transform="translate(1161.8,880.3)"><path d="M-2.4 -30.4H2.4L30.4 -2.4V2.4L2.4 30.4H-2.4L-30.4 2.4V-2.4Z" fill="#ffffff" stroke="#7f7f7f" stroke-width="1.1"/><use href="#cc"/></g>
<g transform="translate(1205.4,880.3)"><path d="M-2.4 -30.4H2.4L30.4 -2.4V2.4L2.4 30.4H-2.4L-30.4 2.4V-2.4Z" fill="#b4c7e7" stroke="#7f7f7f" stroke-width="1.1"/><use href="#cc"/></g>
<g transform="translate(1249.1,880.3)"><path d="M-2.4 -30.4H2.4L30.4 -2.4V2.4L2.4 30.4H-2.4L-30.4 2.4V-2.4Z" fill="#ffffff" stroke="#7f7f7f" stroke-width="1.1"/><use href="#cc"/></g>
<g transform="translate(1292.7,880.3)"><path d="M-2.4 -30.4H2.4L30.4 -2.4V2.4L2.4 30.4H-2.4L-30.4 2.4V-2.4Z" fill="#ffffff" stroke="#7f7f7f" stroke-width="1.1"/><use href="#cc"/></g>
<g transform="translate(1336.3,880.3)"><path d="M-2.4 -30.4H2.4L30.4 -2.4V2.4L2.4 30.4H-2.4L-30.4 2.4V-2.4Z" fill="#203864" stroke="#7f7f7f" stroke-width="1.1"/><use href="#cc"/></g>
<g transform="translate(856.4,924.3)"><path d="M-2.4 -30.4H2.4L30.4 -2.4V2.4L2.4 30.4H-2.4L-30.4 2.4V-2.4Z" fill="#203864" stroke="#7f7f7f" stroke-width="1.1"/><use href="#cc"/></g>
<g transform="translate(900.0,924.3)"><path d="M-2.4 -30.4H2.4L30.4 -2.4V2.4L2.4 30.4H-2.4L-30.4 2.4V-2.4Z" fill="#ffffff" stroke="#7f7f7f" stroke-width="1.1"/><use href="#cc"/></g>
<g transform="translate(943.7,924.3)"><path d="M-2.4 -30.4H2.4L30.4 -2.4V2.4L2.4 30.4H-2.4L-30.4 2.4V-2.4Z" fill="#ffffff" stroke="#7f7f7f" stroke-width="1.1"/><use href="#cc"/></g>
<g transform="translate(987.3,924.3)"><path d="M-2.4 -30.4H2.4L30.4 -2.4V2.4L2.4 30.4H-2.4L-30.4 2.4V-2.4Z" fill="#2f5597" stroke="#7f7f7f" stroke-width="1.1"/><use href="#cc"/></g>
<g transform="translate(1030.9,924.3)"><path d="M-2.4 -30.4H2.4L30.4 -2.4V2.4L2.4 30.4H-2.4L-30.4 2.4V-2.4Z" fill="#ffffff" stroke="#7f7f7f" stroke-width="1.1"/><use href="#cc"/></g>
<g transform="translate(1074.5,924.3)"><path d="M-2.4 -30.4H2.4L30.4 -2.4V2.4L2.4 30.4H-2.4L-30.4 2.4V-2.4Z" fill="#2f5597" stroke="#7f7f7f" stroke-width="1.1"/><use href="#cc"/></g>
<g transform="translate(1118.2,924.3)"><path d="M-2.4 -30.4H2.4L30.4 -2.4V2.4L2.4 30.4H-2.4L-30.4 2.4V-2.4Z" fill="#ffffff" stroke="#7f7f7f" stroke-width="1.1"/><use href="#cc"/></g>
<g transform="translate(1161.8,924.3)"><path d="M-2.4 -30.4H2.4L30.4 -2.4V2.4L2.4 30.4H-2.4L-30.4 2.4V-2.4Z" fill="#2f5597" stroke="#7f7f7f" stroke-width="1.1"/><use href="#cc"/></g>
<g transform="translate(1205.4,924.3)"><path d="M-2.4 -30.4H2.4L30.4 -2.4V2.4L2.4 30.4H-2.4L-30.4 2.4V-2.4Z" fill="#ffffff" stroke="#7f7f7f" stroke-width="1.1"/><use href="#cc"/></g>
<g transform="translate(1249.1,924.3)"><path d="M-2.4 -30.4H2.4L30.4 -2.4V2.4L2.4 30.4H-2.4L-30.4 2.4V-2.4Z" fill="#b4c7e7" stroke="#7f7f7f" stroke-width="1.1"/><use href="#cc"/></g>
<g transform="translate(1292.7,924.3)"><path d="M-2.4 -30.4H2.4L30.4 -2.4V2.4L2.4 30.4H-2.4L-30.4 2.4V-2.4Z" fill="#ffffff" stroke="#7f7f7f" stroke-width="1.1"/><use href="#cc"/></g>
<g transform="translate(1336.3,924.3)"><path d="M-2.4 -30.4H2.4L30.4 -2.4V2.4L2.4 30.4H-2.4L-30.4 2.4V-2.4Z" fill="#203864" stroke="#7f7f7f" stroke-width="1.1"/><use href="#cc"/></g>
<g transform="translate(856.4,968.3)"><path d="M-2.4 -30.4H2.4L30.4 -2.4V2.4L2.4 30.4H-2.4L-30.4 2.4V-2.4Z" fill="#ffffff" stroke="#7f7f7f" stroke-width="1.1"/><use href="#cc"/></g>
<g transform="translate(900.0,968.3)"><path d="M-2.4 -30.4H2.4L30.4 -2.4V2.4L2.4 30.4H-2.4L-30.4 2.4V-2.4Z" fill="#ffffff" stroke="#7f7f7f" stroke-width="1.1"/><use href="#cc"/></g>
<g transform="translate(943.7,968.3)"><path d="M-2.4 -30.4H2.4L30.4 -2.4V2.4L2.4 30.4H-2.4L-30.4 2.4V-2.4Z" fill="#b4c7e7" stroke="#7f7f7f" stroke-width="1.1"/><use href="#cc"/></g>
<g transform="translate(987.3,968.3)"><path d="M-2.4 -30.4H2.4L30.4 -2.4V2.4L2.4 30.4H-2.4L-30.4 2.4V-2.4Z" fill="#ffffff" stroke="#7f7f7f" stroke-width="1.1"/><use href="#cc"/></g>
<g transform="translate(1030.9,968.3)"><path d="M-2.4 -30.4H2.4L30.4 -2.4V2.4L2.4 30.4H-2.4L-30.4 2.4V-2.4Z" fill="#b4c7e7" stroke="#7f7f7f" stroke-width="1.1"/><use href="#cc"/></g>
<g transform="translate(1074.5,968.3)"><path d="M-2.4 -30.4H2.4L30.4 -2.4V2.4L2.4 30.4H-2.4L-30.4 2.4V-2.4Z" fill="#ffffff" stroke="#7f7f7f" stroke-width="1.1"/><use href="#cc"/></g>
<g transform="translate(1118.2,968.3)"><path d="M-2.4 -30.4H2.4L30.4 -2.4V2.4L2.4 30.4H-2.4L-30.4 2.4V-2.4Z" fill="#ffffff" stroke="#7f7f7f" stroke-width="1.1"/><use href="#cc"/></g>
<g transform="translate(1161.8,968.3)"><path d="M-2.4 -30.4H2.4L30.4 -2.4V2.4L2.4 30.4H-2.4L-30.4 2.4V-2.4Z" fill="#ffffff" stroke="#7f7f7f" stroke-width="1.1"/><use href="#cc"/></g>
<g transform="translate(1205.4,968.3)"><path d="M-2.4 -30.4H2.4L30.4 -2.4V2.4L2.4 30.4H-2.4L-30.4 2.4V-2.4Z" fill="#b4c7e7" stroke="#7f7f7f" stroke-width="1.1"/><use href="#cc"/></g>
<g transform="translate(1249.1,968.3)"><path d="M-2.4 -30.4H2.4L30.4 -2.4V2.4L2.4 30.4H-2.4L-30.4 2.4V-2.4Z" fill="#ffffff" stroke="#7f7f7f" stroke-width="1.1"/><use href="#cc"/></g>
<g transform="translate(1292.7,968.3)"><path d="M-2.4 -30.4H2.4L30.4 -2.4V2.4L2.4 30.4H-2.4L-30.4 2.4V-2.4Z" fill="#ffffff" stroke="#7f7f7f" stroke-width="1.1"/><use href="#cc"/></g>
<g transform="translate(1336.3,968.3)"><path d="M-2.4 -30.4H2.4L30.4 -2.4V2.4L2.4 30.4H-2.4L-30.4 2.4V-2.4Z" fill="#203864" stroke="#7f7f7f" stroke-width="1.1"/><use href="#cc"/></g>
<g transform="translate(856.4,1012.4)"><path d="M-2.4 -30.4H2.4L30.4 -2.4V2.4L2.4 30.4H-2.4L-30.4 2.4V-2.4Z" fill="#203864" stroke="#7f7f7f" stroke-width="1.1"/><use href="#cc"/></g>
<g transform="translate(900.0,1012.4)"><path d="M-2.4 -30.4H2.4L30.4 -2.4V2.4L2.4 30.4H-2.4L-30.4 2.4V-2.4Z" fill="#ffffff" stroke="#7f7f7f" stroke-width="1.1"/><use href="#cc"/></g>
<g transform="translate(943.7,1012.4)"><path d="M-2.4 -30.4H2.4L30.4 -2.4V2.4L2.4 30.4H-2.4L-30.4 2.4V-2.4Z" fill="#ffffff" stroke="#7f7f7f" stroke-width="1.1"/><use href="#cc"/></g>
<g transform="translate(987.3,1012.4)"><path d="M-2.4 -30.4H2.4L30.4 -2.4V2.4L2.4 30.4H-2.4L-30.4 2.4V-2.4Z" fill="#2f5597" stroke="#7f7f7f" stroke-width="1.1"/><use href="#cc"/></g>
<g transform="translate(1030.9,1012.4)"><path d="M-2.4 -30.4H2.4L30.4 -2.4V2.4L2.4 30.4H-2.4L-30.4 2.4V-2.4Z" fill="#ffffff" stroke="#7f7f7f" stroke-width="1.1"/><use href="#cc"/></g>
<g transform="translate(1074.5,1012.4)"><path d="M-2.4 -30.4H2.4L30.4 -2.4V2.4L2.4 30.4H-2.4L-30.4 2.4V-2.4Z" fill="#2f5597" stroke="#7f7f7f" stroke-width="1.1"/><use href="#cc"/></g>
<g transform="translate(1118.2,1012.4)"><path d="M-2.4 -30.4H2.4L30.4 -2.4V2.4L2.4 30.4H-2.4L-30.4 2.4V-2.4Z" fill="#ffffff" stroke="#7f7f7f" stroke-width="1.1"/><use href="#cc"/></g>
<g transform="translate(1161.8,1012.4)"><path d="M-2.4 -30.4H2.4L30.4 -2.4V2.4L2.4 30.4H-2.4L-30.4 2.4V-2.4Z" fill="#2f5597" stroke="#7f7f7f" stroke-width="1.1"/><use href="#cc"/></g>
<g transform="translate(1205.4,1012.4)"><path d="M-2.4 -30.4H2.4L30.4 -2.4V2.4L2.4 30.4H-2.4L-30.4 2.4V-2.4Z" fill="#ffffff" stroke="#7f7f7f" stroke-width="1.1"/><use href="#cc"/></g>
<g transform="translate(1249.1,1012.4)"><path d="M-2.4 -30.4H2.4L30.4 -2.4V2.4L2.4 30.4H-2.4L-30.4 2.4V-2.4Z" fill="#b4c7e7" stroke="#7f7f7f" stroke-width="1.1"/><use href="#cc"/></g>
<g transform="translate(1292.7,1012.4)"><path d="M-2.4 -30.4H2.4L30.4 -2.4V2.4L2.4 30.4H-2.4L-30.4 2.4V-2.4Z" fill="#ffffff" stroke="#7f7f7f" stroke-width="1.1"/><use href="#cc"/></g>
<g transform="translate(1336.3,1012.4)"><path d="M-2.4 -30.4H2.4L30.4 -2.4V2.4L2.4 30.4H-2.4L-30.4 2.4V-2.4Z" fill="#203864" stroke="#7f7f7f" stroke-width="1.1"/><use href="#cc"/></g>
<g transform="translate(856.4,1056.4)"><path d="M-2.4 -30.4H2.4L30.4 -2.4V2.4L2.4 30.4H-2.4L-30.4 2.4V-2.4Z" fill="#203864" stroke="#7f7f7f" stroke-width="1.1"/><use href="#cc"/></g>
<g transform="translate(900.0,1056.4)"><path d="M-2.4 -30.4H2.4L30.4 -2.4V2.4L2.4 30.4H-2.4L-30.4 2.4V-2.4Z" fill="#ffffff" stroke="#7f7f7f" stroke-width="1.1"/><use href="#cc"/></g>
<g transform="translate(943.7,1056.4)"><path d="M-2.4 -30.4H2.4L30.4 -2.4V2.4L2.4 30.4H-2.4L-30.4 2.4V-2.4Z" fill="#b4c7e7" stroke="#7f7f7f" stroke-width="1.1"/><use href="#cc"/></g>
<g transform="translate(987.3,1056.4)"><path d="M-2.4 -30.4H2.4L30.4 -2.4V2.4L2.4 30.4H-2.4L-30.4 2.4V-2.4Z" fill="#ffffff" stroke="#7f7f7f" stroke-width="1.1"/><use href="#cc"/></g>
<g transform="translate(1030.9,1056.4)"><path d="M-2.4 -30.4H2.4L30.4 -2.4V2.4L2.4 30.4H-2.4L-30.4 2.4V-2.4Z" fill="#b4c7e7" stroke="#7f7f7f" stroke-width="1.1"/><use href="#cc"/></g>
<g transform="translate(1074.5,1056.4)"><path d="M-2.4 -30.4H2.4L30.4 -2.4V2.4L2.4 30.4H-2.4L-30.4 2.4V-2.4Z" fill="#ffffff" stroke="#7f7f7f" stroke-width="1.1"/><use href="#cc"/></g>
<g transform="translate(1118.2,1056.4)"><path d="M-2.4 -30.4H2.4L30.4 -2.4V2.4L2.4 30.4H-2.4L-30.4 2.4V-2.4Z" fill="#b4c7e7" stroke="#7f7f7f" stroke-width="1.1"/><use href="#cc"/></g>
<g transform="translate(1161.8,1056.4)"><path d="M-2.4 -30.4H2.4L30.4 -2.4V2.4L2.4 30.4H-2.4L-30.4 2.4V-2.4Z" fill="#ffffff" stroke="#7f7f7f" stroke-width="1.1"/><use href="#cc"/></g>
<g transform="translate(1205.4,1056.4)"><path d="M-2.4 -30.4H2.4L30.4 -2.4V2.4L2.4 30.4H-2.4L-30.4 2.4V-2.4Z" fill="#b4c7e7" stroke="#7f7f7f" stroke-width="1.1"/><use href="#cc"/></g>
<g transform="translate(1249.1,1056.4)"><path d="M-2.4 -30.4H2.4L30.4 -2.4V2.4L2.4 30.4H-2.4L-30.4 2.4V-2.4Z" fill="#ffffff" stroke="#7f7f7f" stroke-width="1.1"/><use href="#cc"/></g>
<g transform="translate(1292.7,1056.4)"><path d="M-2.4 -30.4H2.4L30.4 -2.4V2.4L2.4 30.4H-2.4L-30.4 2.4V-2.4Z" fill="#ffffff" stroke="#7f7f7f" stroke-width="1.1"/><use href="#cc"/></g>
<g transform="translate(1336.3,1056.4)"><path d="M-2.4 -30.4H2.4L30.4 -2.4V2.4L2.4 30.4H-2.4L-30.4 2.4V-2.4Z" fill="#ffffff" stroke="#7f7f7f" stroke-width="1.1"/><use href="#cc"/></g>
<g transform="translate(856.4,1100.4)"><path d="M-2.4 -30.4H2.4L30.4 -2.4V2.4L2.4 30.4H-2.4L-30.4 2.4V-2.4Z" fill="#ffffff" stroke="#7f7f7f" stroke-width="1.1"/><use href="#cc"/></g>
<g transform="translate(900.0,1100.4)"><path d="M-2.4 -30.4H2.4L30.4 -2.4V2.4L2.4 30.4H-2.4L-30.4 2.4V-2.4Z" fill="#ffffff" stroke="#7f7f7f" stroke-width="1.1"/><use href="#cc"/></g>
<g transform="translate(943.7,1100.4)"><path d="M-2.4 -30.4H2.4L30.4 -2.4V2.4L2.4 30.4H-2.4L-30.4 2.4V-2.4Z" fill="#ffffff" stroke="#7f7f7f" stroke-width="1.1"/><use href="#cc"/></g>
<g transform="translate(987.3,1100.4)"><path d="M-2.4 -30.4H2.4L30.4 -2.4V2.4L2.4 30.4H-2.4L-30.4 2.4V-2.4Z" fill="#2f5597" stroke="#7f7f7f" stroke-width="1.1"/><use href="#cc"/></g>
<g transform="translate(1030.9,1100.4)"><path d="M-2.4 -30.4H2.4L30.4 -2.4V2.4L2.4 30.4H-2.4L-30.4 2.4V-2.4Z" fill="#ffffff" stroke="#7f7f7f" stroke-width="1.1"/><use href="#cc"/></g>
<g transform="translate(1074.5,1100.4)"><path d="M-2.4 -30.4H2.4L30.4 -2.4V2.4L2.4 30.4H-2.4L-30.4 2.4V-2.4Z" fill="#2f5597" stroke="#7f7f7f" stroke-width="1.1"/><use href="#cc"/></g>
<g transform="translate(1118.2,1100.4)"><path d="M-2.4 -30.4H2.4L30.4 -2.4V2.4L2.4 30.4H-2.4L-30.4 2.4V-2.4Z" fill="#ffffff" stroke="#7f7f7f" stroke-width="1.1"/><use href="#cc"/></g>
<g transform="translate(1161.8,1100.4)"><path d="M-2.4 -30.4H2.4L30.4 -2.4V2.4L2.4 30.4H-2.4L-30.4 2.4V-2.4Z" fill="#2f5597" stroke="#7f7f7f" stroke-width="1.1"/><use href="#cc"/></g>
<g transform="translate(1205.4,1100.4)"><path d="M-2.4 -30.4H2.4L30.4 -2.4V2.4L2.4 30.4H-2.4L-30.4 2.4V-2.4Z" fill="#ffffff" stroke="#7f7f7f" stroke-width="1.1"/><use href="#cc"/></g>
<g transform="translate(1249.1,1100.4)"><path d="M-2.4 -30.4H2.4L30.4 -2.4V2.4L2.4 30.4H-2.4L-30.4 2.4V-2.4Z" fill="#b4c7e7" stroke="#7f7f7f" stroke-width="1.1"/><use href="#cc"/></g>
<g transform="translate(1292.7,1100.4)"><path d="M-2.4 -30.4H2.4L30.4 -2.4V2.4L2.4 30.4H-2.4L-30.4 2.4V-2.4Z" fill="#ffffff" stroke="#7f7f7f" stroke-width="1.1"/><use href="#cc"/></g>
<g transform="translate(1336.3,1100.4)"><path d="M-2.4 -30.4H2.4L30.4 -2.4V2.4L2.4 30.4H-2.4L-30.4 2.4V-2.4Z" fill="#203864" stroke="#7f7f7f" stroke-width="1.1"/><use href="#cc"/></g>
<g transform="translate(856.4,1144.4)"><path d="M-2.4 -30.4H2.4L30.4 -2.4V2.4L2.4 30.4H-2.4L-30.4 2.4V-2.4Z" fill="#203864" stroke="#7f7f7f" stroke-width="1.1"/><use href="#cc"/></g>
<g transform="translate(900.0,1144.4)"><path d="M-2.4 -30.4H2.4L30.4 -2.4V2.4L2.4 30.4H-2.4L-30.4 2.4V-2.4Z" fill="#ffffff" stroke="#7f7f7f" stroke-width="1.1"/><use href="#cc"/></g>
<g transform="translate(943.7,1144.4)"><path d="M-2.4 -30.4H2.4L30.4 -2.4V2.4L2.4 30.4H-2.4L-30.4 2.4V-2.4Z" fill="#b4c7e7" stroke="#7f7f7f" stroke-width="1.1"/><use href="#cc"/></g>
<g transform="translate(987.3,1144.4)"><path d="M-2.4 -30.4H2.4L30.4 -2.4V2.4L2.4 30.4H-2.4L-30.4 2.4V-2.4Z" fill="#ffffff" stroke="#7f7f7f" stroke-width="1.1"/><use href="#cc"/></g>
<g transform="translate(1030.9,1144.4)"><path d="M-2.4 -30.4H2.4L30.4 -2.4V2.4L2.4 30.4H-2.4L-30.4 2.4V-2.4Z" fill="#b4c7e7" stroke="#7f7f7f" stroke-width="1.1"/><use href="#cc"/></g>
<g transform="translate(1074.5,1144.4)"><path d="M-2.4 -30.4H2.4L30.4 -2.4V2.4L2.4 30.4H-2.4L-30.4 2.4V-2.4Z" fill="#ffffff" stroke="#7f7f7f" stroke-width="1.1"/><use href="#cc"/></g>
<g transform="translate(1118.2,1144.4)"><path d="M-2.4 -30.4H2.4L30.4 -2.4V2.4L2.4 30.4H-2.4L-30.4 2.4V-2.4Z" fill="#b4c7e7" stroke="#7f7f7f" stroke-width="1.1"/><use href="#cc"/></g>
<g transform="translate(1161.8,1144.4)"><path d="M-2.4 -30.4H2.4L30.4 -2.4V2.4L2.4 30.4H-2.4L-30.4 2.4V-2.4Z" fill="#ffffff" stroke="#7f7f7f" stroke-width="1.1"/><use href="#cc"/></g>
<g transform="translate(1205.4,1144.4)"><path d="M-2.4 -30.4H2.4L30.4 -2.4V2.4L2.4 30.4H-2.4L-30.4 2.4V-2.4Z" fill="#b4c7e7" stroke="#7f7f7f" stroke-width="1.1"/><use href="#cc"/></g>
<g transform="translate(1249.1,1144.4)"><path d="M-2.4 -30.4H2.4L30.4 -2.4V2.4L2.4 30.4H-2.4L-30.4 2.4V-2.4Z" fill="#ffffff" stroke="#7f7f7f" stroke-width="1.1"/><use href="#cc"/></g>
<g transform="translate(1292.7,1144.4)"><path d="M-2.4 -30.4H2.4L30.4 -2.4V2.4L2.4 30.4H-2.4L-30.4 2.4V-2.4Z" fill="#ffffff" stroke="#7f7f7f" stroke-width="1.1"/><use href="#cc"/></g>
<g transform="translate(1336.3,1144.4)"><path d="M-2.4 -30.4H2.4L30.4 -2.4V2.4L2.4 30.4H-2.4L-30.4 2.4V-2.4Z" fill="#203864" stroke="#7f7f7f" stroke-width="1.1"/><use href="#cc"/></g>
<g transform="translate(856.4,1188.5)"><path d="M-2.4 -30.4H2.4L30.4 -2.4V2.4L2.4 30.4H-2.4L-30.4 2.4V-2.4Z" fill="#203864" stroke="#7f7f7f" stroke-width="1.1"/><use href="#cc"/></g>
<g transform="translate(900.0,1188.5)"><path d="M-2.4 -30.4H2.4L30.4 -2.4V2.4L2.4 30.4H-2.4L-30.4 2.4V-2.4Z" fill="#ffffff" stroke="#7f7f7f" stroke-width="1.1"/><use href="#cc"/></g>
<g transform="translate(943.7,1188.5)"><path d="M-2.4 -30.4H2.4L30.4 -2.4V2.4L2.4 30.4H-2.4L-30.4 2.4V-2.4Z" fill="#ffffff" stroke="#7f7f7f" stroke-width="1.1"/><use href="#cc"/></g>
<g transform="translate(987.3,1188.5)"><path d="M-2.4 -30.4H2.4L30.4 -2.4V2.4L2.4 30.4H-2.4L-30.4 2.4V-2.4Z" fill="#b4c7e7" stroke="#7f7f7f" stroke-width="1.1"/><use href="#cc"/></g>
<g transform="translate(1030.9,1188.5)"><path d="M-2.4 -30.4H2.4L30.4 -2.4V2.4L2.4 30.4H-2.4L-30.4 2.4V-2.4Z" fill="#ffffff" stroke="#7f7f7f" stroke-width="1.1"/><use href="#cc"/></g>
<g transform="translate(1074.5,1188.5)"><path d="M-2.4 -30.4H2.4L30.4 -2.4V2.4L2.4 30.4H-2.4L-30.4 2.4V-2.4Z" fill="#b4c7e7" stroke="#7f7f7f" stroke-width="1.1"/><use href="#cc"/></g>
<g transform="translate(1118.2,1188.5)"><path d="M-2.4 -30.4H2.4L30.4 -2.4V2.4L2.4 30.4H-2.4L-30.4 2.4V-2.4Z" fill="#ffffff" stroke="#7f7f7f" stroke-width="1.1"/><use href="#cc"/></g>
<g transform="translate(1161.8,1188.5)"><path d="M-2.4 -30.4H2.4L30.4 -2.4V2.4L2.4 30.4H-2.4L-30.4 2.4V-2.4Z" fill="#b4c7e7" stroke="#7f7f7f" stroke-width="1.1"/><use href="#cc"/></g>
<g transform="translate(1205.4,1188.5)"><path d="M-2.4 -30.4H2.4L30.4 -2.4V2.4L2.4 30.4H-2.4L-30.4 2.4V-2.4Z" fill="#ffffff" stroke="#7f7f7f" stroke-width="1.1"/><use href="#cc"/></g>
<g transform="translate(1249.1,1188.5)"><path d="M-2.4 -30.4H2.4L30.4 -2.4V2.4L2.4 30.4H-2.4L-30.4 2.4V-2.4Z" fill="#ffffff" stroke="#7f7f7f" stroke-width="1.1"/><use href="#cc"/></g>
<g transform="translate(1292.7,1188.5)"><path d="M-2.4 -30.4H2.4L30.4 -2.4V2.4L2.4 30.4H-2.4L-30.4 2.4V-2.4Z" fill="#ffffff" stroke="#7f7f7f" stroke-width="1.1"/><use href="#cc"/></g>
<g transform="translate(1336.3,1188.5)"><path d="M-2.4 -30.4H2.4L30.4 -2.4V2.4L2.4 30.4H-2.4L-30.4 2.4V-2.4Z" fill="#ffffff" stroke="#7f7f7f" stroke-width="1.1"/><use href="#cc"/></g>
<g transform="translate(856.4,1232.5)"><path d="M-2.4 -30.4H2.4L30.4 -2.4V2.4L2.4 30.4H-2.4L-30.4 2.4V-2.4Z" fill="#203864" stroke="#7f7f7f" stroke-width="1.1"/><use href="#cc"/></g>
<g transform="translate(900.0,1232.5)"><path d="M-2.4 -30.4H2.4L30.4 -2.4V2.4L2.4 30.4H-2.4L-30.4 2.4V-2.4Z" fill="#ffffff" stroke="#7f7f7f" stroke-width="1.1"/><use href="#cc"/></g>
<g transform="translate(943.7,1232.5)"><path d="M-2.4 -30.4H2.4L30.4 -2.4V2.4L2.4 30.4H-2.4L-30.4 2.4V-2.4Z" fill="#ffffff" stroke="#7f7f7f" stroke-width="1.1"/><use href="#cc"/></g>
<g transform="translate(987.3,1232.5)"><path d="M-2.4 -30.4H2.4L30.4 -2.4V2.4L2.4 30.4H-2.4L-30.4 2.4V-2.4Z" fill="#ffffff" stroke="#7f7f7f" stroke-width="1.1"/><use href="#cc"/></g>
<g transform="translate(1030.9,1232.5)"><path d="M-2.4 -30.4H2.4L30.4 -2.4V2.4L2.4 30.4H-2.4L-30.4 2.4V-2.4Z" fill="#ffffff" stroke="#7f7f7f" stroke-width="1.1"/><use href="#cc"/></g>
<g transform="translate(1118.2,1232.5)"><path d="M-2.4 -30.4H2.4L30.4 -2.4V2.4L2.4 30.4H-2.4L-30.4 2.4V-2.4Z" fill="#ffffff" stroke="#7f7f7f" stroke-width="1.1"/><use href="#cc"/></g>
<g transform="translate(1161.8,1232.5)"><path d="M-2.4 -30.4H2.4L30.4 -2.4V2.4L2.4 30.4H-2.4L-30.4 2.4V-2.4Z" fill="#ffffff" stroke="#7f7f7f" stroke-width="1.1"/><use href="#cc"/></g>
<g transform="translate(1205.4,1232.5)"><path d="M-2.4 -30.4H2.4L30.4 -2.4V2.4L2.4 30.4H-2.4L-30.4 2.4V-2.4Z" fill="#ffffff" stroke="#7f7f7f" stroke-width="1.1"/><use href="#cc"/></g>
<g transform="translate(1249.1,1232.5)"><path d="M-2.4 -30.4H2.4L30.4 -2.4V2.4L2.4 30.4H-2.4L-30.4 2.4V-2.4Z" fill="#ffffff" stroke="#7f7f7f" stroke-width="1.1"/><use href="#cc"/></g>
<g transform="translate(1292.7,1232.5)"><path d="M-2.4 -30.4H2.4L30.4 -2.4V2.4L2.4 30.4H-2.4L-30.4 2.4V-2.4Z" fill="#ffffff" stroke="#7f7f7f" stroke-width="1.1"/><use href="#cc"/></g>
<g transform="translate(1336.3,1232.5)"><path d="M-2.4 -30.4H2.4L30.4 -2.4V2.4L2.4 30.4H-2.4L-30.4 2.4V-2.4Z" fill="#203864" stroke="#7f7f7f" stroke-width="1.1"/><use href="#cc"/></g>
<g transform="translate(856.4,1276.5)"><path d="M-2.4 -30.4H2.4L30.4 -2.4V2.4L2.4 30.4H-2.4L-30.4 2.4V-2.4Z" fill="#203864" stroke="#7f7f7f" stroke-width="1.1"/><use href="#cc"/></g>
<g transform="translate(900.0,1276.5)"><path d="M-2.4 -30.4H2.4L30.4 -2.4V2.4L2.4 30.4H-2.4L-30.4 2.4V-2.4Z" fill="#203864" stroke="#7f7f7f" stroke-width="1.1"/><use href="#cc"/></g>
<g transform="translate(943.7,1276.5)"><path d="M-2.4 -30.4H2.4L30.4 -2.4V2.4L2.4 30.4H-2.4L-30.4 2.4V-2.4Z" fill="#203864" stroke="#7f7f7f" stroke-width="1.1"/><use href="#cc"/></g>
<g transform="translate(987.3,1276.5)"><path d="M-2.4 -30.4H2.4L30.4 -2.4V2.4L2.4 30.4H-2.4L-30.4 2.4V-2.4Z" fill="#ffffff" stroke="#7f7f7f" stroke-width="1.1"/><use href="#cc"/></g>
<g transform="translate(1030.9,1276.5)"><path d="M-2.4 -30.4H2.4L30.4 -2.4V2.4L2.4 30.4H-2.4L-30.4 2.4V-2.4Z" fill="#203864" stroke="#7f7f7f" stroke-width="1.1"/><use href="#cc"/></g>
<g transform="translate(1074.5,1276.5)"><path d="M-2.4 -30.4H2.4L30.4 -2.4V2.4L2.4 30.4H-2.4L-30.4 2.4V-2.4Z" fill="#203864" stroke="#7f7f7f" stroke-width="1.1"/><use href="#cc"/></g>
<g transform="translate(1118.2,1276.5)"><path d="M-2.4 -30.4H2.4L30.4 -2.4V2.4L2.4 30.4H-2.4L-30.4 2.4V-2.4Z" fill="#203864" stroke="#7f7f7f" stroke-width="1.1"/><use href="#cc"/></g>
<g transform="translate(1161.8,1276.5)"><path d="M-2.4 -30.4H2.4L30.4 -2.4V2.4L2.4 30.4H-2.4L-30.4 2.4V-2.4Z" fill="#ffffff" stroke="#7f7f7f" stroke-width="1.1"/><use href="#cc"/></g>
<g transform="translate(1205.4,1276.5)"><path d="M-2.4 -30.4H2.4L30.4 -2.4V2.4L2.4 30.4H-2.4L-30.4 2.4V-2.4Z" fill="#203864" stroke="#7f7f7f" stroke-width="1.1"/><use href="#cc"/></g>
<g transform="translate(1249.1,1276.5)"><path d="M-2.4 -30.4H2.4L30.4 -2.4V2.4L2.4 30.4H-2.4L-30.4 2.4V-2.4Z" fill="#203864" stroke="#7f7f7f" stroke-width="1.1"/><use href="#cc"/></g>
<g transform="translate(1292.7,1276.5)"><path d="M-2.4 -30.4H2.4L30.4 -2.4V2.4L2.4 30.4H-2.4L-30.4 2.4V-2.4Z" fill="#203864" stroke="#7f7f7f" stroke-width="1.1"/><use href="#cc"/></g>
<g transform="translate(1336.3,1276.5)"><path d="M-2.4 -30.4H2.4L30.4 -2.4V2.4L2.4 30.4H-2.4L-30.4 2.4V-2.4Z" fill="#203864" stroke="#7f7f7f" stroke-width="1.1"/><use href="#cc"/></g>
<g transform="translate(1420.6,792.1)"><path d="M-2.4 -30.4H2.4L30.4 -2.4V2.4L2.4 30.4H-2.4L-30.4 2.4V-2.4Z" fill="#ffffff" stroke="#7f7f7f" stroke-width="1.1"/><use href="#cc"/></g>
<g transform="translate(1464.6,792.1)"><path d="M-2.4 -30.4H2.4L30.4 -2.4V2.4L2.4 30.4H-2.4L-30.4 2.4V-2.4Z" fill="#ffffff" stroke="#7f7f7f" stroke-width="1.1"/><use href="#cc"/></g>
<g transform="translate(1508.6,792.1)"><path d="M-2.4 -30.4H2.4L30.4 -2.4V2.4L2.4 30.4H-2.4L-30.4 2.4V-2.4Z" fill="#ffffff" stroke="#7f7f7f" stroke-width="1.1"/><use href="#cc"/></g>
<g transform="translate(1552.6,792.1)"><path d="M-2.4 -30.4H2.4L30.4 -2.4V2.4L2.4 30.4H-2.4L-30.4 2.4V-2.4Z" fill="#843c0c" stroke="#7f7f7f" stroke-width="1.1"/><use href="#cc"/></g>
<g transform="translate(1596.6,792.1)"><path d="M-2.4 -30.4H2.4L30.4 -2.4V2.4L2.4 30.4H-2.4L-30.4 2.4V-2.4Z" fill="#843c0c" stroke="#7f7f7f" stroke-width="1.1"/><use href="#cc"/></g>
<g transform="translate(1640.6,792.1)"><path d="M-2.4 -30.4H2.4L30.4 -2.4V2.4L2.4 30.4H-2.4L-30.4 2.4V-2.4Z" fill="#ffffff" stroke="#7f7f7f" stroke-width="1.1"/><use href="#cc"/></g>
<g transform="translate(1684.6,792.1)"><path d="M-2.4 -30.4H2.4L30.4 -2.4V2.4L2.4 30.4H-2.4L-30.4 2.4V-2.4Z" fill="#ffffff" stroke="#7f7f7f" stroke-width="1.1"/><use href="#cc"/></g>
<g transform="translate(1728.6,792.1)"><path d="M-2.4 -30.4H2.4L30.4 -2.4V2.4L2.4 30.4H-2.4L-30.4 2.4V-2.4Z" fill="#ffffff" stroke="#7f7f7f" stroke-width="1.1"/><use href="#cc"/></g>
<g transform="translate(1772.6,792.1)"><path d="M-2.4 -30.4H2.4L30.4 -2.4V2.4L2.4 30.4H-2.4L-30.4 2.4V-2.4Z" fill="#ffffff" stroke="#7f7f7f" stroke-width="1.1"/><use href="#cc"/></g>
<g transform="translate(1816.6,792.1)"><path d="M-2.4 -30.4H2.4L30.4 -2.4V2.4L2.4 30.4H-2.4L-30.4 2.4V-2.4Z" fill="#ffffff" stroke="#7f7f7f" stroke-width="1.1"/><use href="#cc"/></g>
<g transform="translate(1860.6,792.1)"><path d="M-2.4 -30.4H2.4L30.4 -2.4V2.4L2.4 30.4H-2.4L-30.4 2.4V-2.4Z" fill="#ffffff" stroke="#7f7f7f" stroke-width="1.1"/><use href="#cc"/></g>
<g transform="translate(1904.6,792.1)"><path d="M-2.4 -30.4H2.4L30.4 -2.4V2.4L2.4 30.4H-2.4L-30.4 2.4V-2.4Z" fill="#843c0c" stroke="#7f7f7f" stroke-width="1.1"/><use href="#cc"/></g>
<g transform="translate(1420.6,835.5)"><path d="M-2.4 -30.4H2.4L30.4 -2.4V2.4L2.4 30.4H-2.4L-30.4 2.4V-2.4Z" fill="#ffffff" stroke="#7f7f7f" stroke-width="1.1"/><use href="#cc"/></g>
<g transform="translate(1464.6,835.5)"><path d="M-2.4 -30.4H2.4L30.4 -2.4V2.4L2.4 30.4H-2.4L-30.4 2.4V-2.4Z" fill="#ffffff" stroke="#7f7f7f" stroke-width="1.1"/><use href="#cc"/></g>
<g transform="translate(1508.6,835.5)"><path d="M-2.4 -30.4H2.4L30.4 -2.4V2.4L2.4 30.4H-2.4L-30.4 2.4V-2.4Z" fill="#ffffff" stroke="#7f7f7f" stroke-width="1.1"/><use href="#cc"/></g>
<g transform="translate(1552.6,835.5)"><path d="M-2.4 -30.4H2.4L30.4 -2.4V2.4L2.4 30.4H-2.4L-30.4 2.4V-2.4Z" fill="#ffffff" stroke="#7f7f7f" stroke-width="1.1"/><use href="#cc"/></g>
<g transform="translate(1596.6,835.5)"><path d="M-2.4 -30.4H2.4L30.4 -2.4V2.4L2.4 30.4H-2.4L-30.4 2.4V-2.4Z" fill="#ffffff" stroke="#7f7f7f" stroke-width="1.1"/><use href="#cc"/></g>
<g transform="translate(1640.6,835.5)"><path d="M-2.4 -30.4H2.4L30.4 -2.4V2.4L2.4 30.4H-2.4L-30.4 2.4V-2.4Z" fill="#f8cbad" stroke="#7f7f7f" stroke-width="1.1"/><use href="#cc"/></g>
<g transform="translate(1684.6,835.5)"><path d="M-2.4 -30.4H2.4L30.4 -2.4V2.4L2.4 30.4H-2.4L-30.4 2.4V-2.4Z" fill="#ffffff" stroke="#7f7f7f" stroke-width="1.1"/><use href="#cc"/></g>
<g transform="translate(1728.6,835.5)"><path d="M-2.4 -30.4H2.4L30.4 -2.4V2.4L2.4 30.4H-2.4L-30.4 2.4V-2.4Z" fill="#ffffff" stroke="#7f7f7f" stroke-width="1.1"/><use href="#cc"/></g>
<g transform="translate(1772.6,835.5)"><path d="M-2.4 -30.4H2.4L30.4 -2.4V2.4L2.4 30.4H-2.4L-30.4 2.4V-2.4Z" fill="#ffffff" stroke="#7f7f7f" stroke-width="1.1"/><use href="#cc"/></g>
<g transform="translate(1816.6,835.5)"><path d="M-2.4 -30.4H2.4L30.4 -2.4V2.4L2.4 30.4H-2.4L-30.4 2.4V-2.4Z" fill="#f8cbad" stroke="#7f7f7f" stroke-width="1.1"/><use href="#cc"/></g>
<g transform="translate(1860.6,835.5)"><path d="M-2.4 -30.4H2.4L30.4 -2.4V2.4L2.4 30.4H-2.4L-30.4 2.4V-2.4Z" fill="#ffffff" stroke="#7f7f7f" stroke-width="1.1"/><use href="#cc"/></g>
<g transform="translate(1904.6,835.5)"><path d="M-2.4 -30.4H2.4L30.4 -2.4V2.4L2.4 30.4H-2.4L-30.4 2.4V-2.4Z" fill="#ffffff" stroke="#7f7f7f" stroke-width="1.1"/><use href="#cc"/></g>
<g transform="translate(1420.6,878.8)"><path d="M-2.4 -30.4H2.4L30.4 -2.4V2.4L2.4 30.4H-2.4L-30.4 2.4V-2.4Z" fill="#ffffff" stroke="#7f7f7f" stroke-width="1.1"/><use href="#cc"/></g>
<g transform="translate(1464.6,878.8)"><path d="M-2.4 -30.4H2.4L30.4 -2.4V2.4L2.4 30.4H-2.4L-30.4 2.4V-2.4Z" fill="#ffffff" stroke="#7f7f7f" stroke-width="1.1"/><use href="#cc"/></g>
<g transform="translate(1508.6,878.8)"><path d="M-2.4 -30.4H2.4L30.4 -2.4V2.4L2.4 30.4H-2.4L-30.4 2.4V-2.4Z" fill="#f8cbad" stroke="#7f7f7f" stroke-width="1.1"/><use href="#cc"/></g>
<g transform="translate(1552.6,878.8)"><path d="M-2.4 -30.4H2.4L30.4 -2.4V2.4L2.4 30.4H-2.4L-30.4 2.4V-2.4Z" fill="#ffffff" stroke="#7f7f7f" stroke-width="1.1"/><use href="#cc"/></g>
<g transform="translate(1596.6,878.8)"><path d="M-2.4 -30.4H2.4L30.4 -2.4V2.4L2.4 30.4H-2.4L-30.4 2.4V-2.4Z" fill="#f8cbad" stroke="#7f7f7f" stroke-width="1.1"/><use href="#cc"/></g>
<g transform="translate(1640.6,878.8)"><path d="M-2.4 -30.4H2.4L30.4 -2.4V2.4L2.4 30.4H-2.4L-30.4 2.4V-2.4Z" fill="#ffffff" stroke="#7f7f7f" stroke-width="1.1"/><use href="#cc"/></g>
<g transform="translate(1684.6,878.8)"><path d="M-2.4 -30.4H2.4L30.4 -2.4V2.4L2.4 30.4H-2.4L-30.4 2.4V-2.4Z" fill="#f8cbad" stroke="#7f7f7f" stroke-width="1.1"/><use href="#cc"/></g>
<g transform="translate(1728.6,878.8)"><path d="M-2.4 -30.4H2.4L30.4 -2.4V2.4L2.4 30.4H-2.4L-30.4 2.4V-2.4Z" fill="#ffffff" stroke="#7f7f7f" stroke-width="1.1"/><use href="#cc"/></g>
<g transform="translate(1772.6,878.8)"><path d="M-2.4 -30.4H2.4L30.4 -2.4V2.4L2.4 30.4H-2.4L-30.4 2.4V-2.4Z" fill="#f8cbad" stroke="#7f7f7f" stroke-width="1.1"/><use href="#cc"/></g>
<g transform="translate(1816.6,878.8)"><path d="M-2.4 -30.4H2.4L30.4 -2.4V2.4L2.4 30.4H-2.4L-30.4 2.4V-2.4Z" fill="#ffffff" stroke="#7f7f7f" stroke-width="1.1"/><use href="#cc"/></g>
<g transform="translate(1860.6,878.8)"><path d="M-2.4 -30.4H2.4L30.4 -2.4V2.4L2.4 30.4H-2.4L-30.4 2.4V-2.4Z" fill="#f8cbad" stroke="#7f7f7f" stroke-width="1.1"/><use href="#cc"/></g>
<g transform="translate(1904.6,878.8)"><path d="M-2.4 -30.4H2.4L30.4 -2.4V2.4L2.4 30.4H-2.4L-30.4 2.4V-2.4Z" fill="#ffffff" stroke="#7f7f7f" stroke-width="1.1"/><use href="#cc"/></g>
<g transform="translate(1420.6,922.0)"><path d="M-2.4 -30.4H2.4L30.4 -2.4V2.4L2.4 30.4H-2.4L-30.4 2.4V-2.4Z" fill="#ffffff" stroke="#7f7f7f" stroke-width="1.1"/><use href="#cc"/></g>
<g transform="translate(1464.6,922.0)"><path d="M-2.4 -30.4H2.4L30.4 -2.4V2.4L2.4 30.4H-2.4L-30.4 2.4V-2.4Z" fill="#ffffff" stroke="#7f7f7f" stroke-width="1.1"/><use href="#cc"/></g>
<g transform="translate(1508.6,922.0)"><path d="M-2.4 -30.4H2.4L30.4 -2.4V2.4L2.4 30.4H-2.4L-30.4 2.4V-2.4Z" fill="#ffffff" stroke="#7f7f7f" stroke-width="1.1"/><use href="#cc"/></g>
<g transform="translate(1552.6,922.0)"><path d="M-2.4 -30.4H2.4L30.4 -2.4V2.4L2.4 30.4H-2.4L-30.4 2.4V-2.4Z" fill="#c55a11" stroke="#7f7f7f" stroke-width="1.1"/><use href="#cc"/></g>
<g transform="translate(1596.6,922.0)"><path d="M-2.4 -30.4H2.4L30.4 -2.4V2.4L2.4 30.4H-2.4L-30.4 2.4V-2.4Z" fill="#f8cbad" stroke="#7f7f7f" stroke-width="1.1"/><use href="#cc"/></g>
<g transform="translate(1640.6,922.0)"><path d="M-2.4 -30.4H2.4L30.4 -2.4V2.4L2.4 30.4H-2.4L-30.4 2.4V-2.4Z" fill="#c55a11" stroke="#7f7f7f" stroke-width="1.1"/><use href="#cc"/></g>
<g transform="translate(1684.6,922.0)"><path d="M-2.4 -30.4H2.4L30.4 -2.4V2.4L2.4 30.4H-2.4L-30.4 2.4V-2.4Z" fill="#f8cbad" stroke="#7f7f7f" stroke-width="1.1"/><use href="#cc"/></g>
<g transform="translate(1728.6,922.0)"><path d="M-2.4 -30.4H2.4L30.4 -2.4V2.4L2.4 30.4H-2.4L-30.4 2.4V-2.4Z" fill="#c55a11" stroke="#7f7f7f" stroke-width="1.1"/><use href="#cc"/></g>
<g transform="translate(1772.6,922.0)"><path d="M-2.4 -30.4H2.4L30.4 -2.4V2.4L2.4 30.4H-2.4L-30.4 2.4V-2.4Z" fill="#f8cbad" stroke="#7f7f7f" stroke-width="1.1"/><use href="#cc"/></g>
<g transform="translate(1816.6,922.0)"><path d="M-2.4 -30.4H2.4L30.4 -2.4V2.4L2.4 30.4H-2.4L-30.4 2.4V-2.4Z" fill="#c55a11" stroke="#7f7f7f" stroke-width="1.1"/><use href="#cc"/></g>
<g transform="translate(1860.6,922.0)"><path d="M-2.4 -30.4H2.4L30.4 -2.4V2.4L2.4 30.4H-2.4L-30.4 2.4V-2.4Z" fill="#ffffff" stroke="#7f7f7f" stroke-width="1.1"/><use href="#cc"/></g>
<g transform="translate(1904.6,922.0)"><path d="M-2.4 -30.4H2.4L30.4 -2.4V2.4L2.4 30.4H-2.4L-30.4 2.4V-2.4Z" fill="#ffffff" stroke="#7f7f7f" stroke-width="1.1"/><use href="#cc"/></g>
<g transform="translate(1420.6,965.0)"><path d="M-2.4 -30.4H2.4L30.4 -2.4V2.4L2.4 30.4H-2.4L-30.4 2.4V-2.4Z" fill="#843c0c" stroke="#7f7f7f" stroke-width="1.1"/><use href="#cc"/></g>
<g transform="translate(1464.6,965.0)"><path d="M-2.4 -30.4H2.4L30.4 -2.4V2.4L2.4 30.4H-2.4L-30.4 2.4V-2.4Z" fill="#ffffff" stroke="#7f7f7f" stroke-width="1.1"/><use href="#cc"/></g>
<g transform="translate(1508.6,965.0)"><path d="M-2.4 -30.4H2.4L30.4 -2.4V2.4L2.4 30.4H-2.4L-30.4 2.4V-2.4Z" fill="#f8cbad" stroke="#7f7f7f" stroke-width="1.1"/><use href="#cc"/></g>
<g transform="translate(1552.6,965.0)"><path d="M-2.4 -30.4H2.4L30.4 -2.4V2.4L2.4 30.4H-2.4L-30.4 2.4V-2.4Z" fill="#f8cbad" stroke="#7f7f7f" stroke-width="1.1"/><use href="#cc"/></g>
<g transform="translate(1596.6,965.0)"><path d="M-2.4 -30.4H2.4L30.4 -2.4V2.4L2.4 30.4H-2.4L-30.4 2.4V-2.4Z" fill="#f8cbad" stroke="#7f7f7f" stroke-width="1.1"/><use href="#cc"/></g>
<g transform="translate(1640.6,965.0)"><path d="M-2.4 -30.4H2.4L30.4 -2.4V2.4L2.4 30.4H-2.4L-30.4 2.4V-2.4Z" fill="#f8cbad" stroke="#7f7f7f" stroke-width="1.1"/><use href="#cc"/></g>
<g transform="translate(1684.6,965.0)"><path d="M-2.4 -30.4H2.4L30.4 -2.4V2.4L2.4 30.4H-2.4L-30.4 2.4V-2.4Z" fill="#f8cbad" stroke="#7f7f7f" stroke-width="1.1"/><use href="#cc"/></g>
<g transform="translate(1728.6,965.0)"><path d="M-2.4 -30.4H2.4L30.4 -2.4V2.4L2.4 30.4H-2.4L-30.4 2.4V-2.4Z" fill="#f8cbad" stroke="#7f7f7f" stroke-width="1.1"/><use href="#cc"/></g>
<g transform="translate(1772.6,965.0)"><path d="M-2.4 -30.4H2.4L30.4 -2.4V2.4L2.4 30.4H-2.4L-30.4 2.4V-2.4Z" fill="#f8cbad" stroke="#7f7f7f" stroke-width="1.1"/><use href="#cc"/></g>
<g transform="translate(1816.6,965.0)"><path d="M-2.4 -30.4H2.4L30.4 -2.4V2.4L2.4 30.4H-2.4L-30.4 2.4V-2.4Z" fill="#f8cbad" stroke="#7f7f7f" stroke-width="1.1"/><use href="#cc"/></g>
<g transform="translate(1860.6,965.0)"><path d="M-2.4 -30.4H2.4L30.4 -2.4V2.4L2.4 30.4H-2.4L-30.4 2.4V-2.4Z" fill="#f8cbad" stroke="#7f7f7f" stroke-width="1.1"/><use href="#cc"/></g>
<g transform="translate(1904.6,965.0)"><path d="M-2.4 -30.4H2.4L30.4 -2.4V2.4L2.4 30.4H-2.4L-30.4 2.4V-2.4Z" fill="#ffffff" stroke="#7f7f7f" stroke-width="1.1"/><use href="#cc"/></g>
<g transform="translate(1420.6,1008.7)"><path d="M-2.4 -30.4H2.4L30.4 -2.4V2.4L2.4 30.4H-2.4L-30.4 2.4V-2.4Z" fill="#843c0c" stroke="#7f7f7f" stroke-width="1.1"/><use href="#cc"/></g>
<g transform="translate(1464.6,1008.7)"><path d="M-2.4 -30.4H2.4L30.4 -2.4V2.4L2.4 30.4H-2.4L-30.4 2.4V-2.4Z" fill="#f8cbad" stroke="#7f7f7f" stroke-width="1.1"/><use href="#cc"/></g>
<g transform="translate(1508.6,1008.7)"><path d="M-2.4 -30.4H2.4L30.4 -2.4V2.4L2.4 30.4H-2.4L-30.4 2.4V-2.4Z" fill="#ffffff" stroke="#7f7f7f" stroke-width="1.1"/><use href="#cc"/></g>
<g transform="translate(1552.6,1008.7)"><path d="M-2.4 -30.4H2.4L30.4 -2.4V2.4L2.4 30.4H-2.4L-30.4 2.4V-2.4Z" fill="#c55a11" stroke="#7f7f7f" stroke-width="1.1"/><use href="#cc"/></g>
<g transform="translate(1596.6,1008.7)"><path d="M-2.4 -30.4H2.4L30.4 -2.4V2.4L2.4 30.4H-2.4L-30.4 2.4V-2.4Z" fill="#f8cbad" stroke="#7f7f7f" stroke-width="1.1"/><use href="#cc"/></g>
<g transform="translate(1640.6,1008.7)"><path d="M-2.4 -30.4H2.4L30.4 -2.4V2.4L2.4 30.4H-2.4L-30.4 2.4V-2.4Z" fill="#c55a11" stroke="#7f7f7f" stroke-width="1.1"/><use href="#cc"/></g>
<g transform="translate(1684.6,1008.7)"><path d="M-2.4 -30.4H2.4L30.4 -2.4V2.4L2.4 30.4H-2.4L-30.4 2.4V-2.4Z" fill="#c55a11" stroke="#7f7f7f" stroke-width="1.1"/><use href="#cc"/></g>
<g transform="translate(1728.6,1008.7)"><path d="M-2.4 -30.4H2.4L30.4 -2.4V2.4L2.4 30.4H-2.4L-30.4 2.4V-2.4Z" fill="#c55a11" stroke="#7f7f7f" stroke-width="1.1"/><use href="#cc"/></g>
<g transform="translate(1772.6,1008.7)"><path d="M-2.4 -30.4H2.4L30.4 -2.4V2.4L2.4 30.4H-2.4L-30.4 2.4V-2.4Z" fill="#f8cbad" stroke="#7f7f7f" stroke-width="1.1"/><use href="#cc"/></g>
<g transform="translate(1816.6,1008.7)"><path d="M-2.4 -30.4H2.4L30.4 -2.4V2.4L2.4 30.4H-2.4L-30.4 2.4V-2.4Z" fill="#c55a11" stroke="#7f7f7f" stroke-width="1.1"/><use href="#cc"/></g>
<g transform="translate(1860.6,1008.7)"><path d="M-2.4 -30.4H2.4L30.4 -2.4V2.4L2.4 30.4H-2.4L-30.4 2.4V-2.4Z" fill="#ffffff" stroke="#7f7f7f" stroke-width="1.1"/><use href="#cc"/></g>
<g transform="translate(1904.6,1008.7)"><path d="M-2.4 -30.4H2.4L30.4 -2.4V2.4L2.4 30.4H-2.4L-30.4 2.4V-2.4Z" fill="#ffffff" stroke="#7f7f7f" stroke-width="1.1"/><use href="#cc"/></g>
<g transform="translate(1420.6,1052.4)"><path d="M-2.4 -30.4H2.4L30.4 -2.4V2.4L2.4 30.4H-2.4L-30.4 2.4V-2.4Z" fill="#ffffff" stroke="#7f7f7f" stroke-width="1.1"/><use href="#cc"/></g>
<g transform="translate(1464.6,1052.4)"><path d="M-2.4 -30.4H2.4L30.4 -2.4V2.4L2.4 30.4H-2.4L-30.4 2.4V-2.4Z" fill="#ffffff" stroke="#7f7f7f" stroke-width="1.1"/><use href="#cc"/></g>
<g transform="translate(1508.6,1052.4)"><path d="M-2.4 -30.4H2.4L30.4 -2.4V2.4L2.4 30.4H-2.4L-30.4 2.4V-2.4Z" fill="#f8cbad" stroke="#7f7f7f" stroke-width="1.1"/><use href="#cc"/></g>
<g transform="translate(1552.6,1052.4)"><path d="M-2.4 -30.4H2.4L30.4 -2.4V2.4L2.4 30.4H-2.4L-30.4 2.4V-2.4Z" fill="#f8cbad" stroke="#7f7f7f" stroke-width="1.1"/><use href="#cc"/></g>
<g transform="translate(1596.6,1052.4)"><path d="M-2.4 -30.4H2.4L30.4 -2.4V2.4L2.4 30.4H-2.4L-30.4 2.4V-2.4Z" fill="#f8cbad" stroke="#7f7f7f" stroke-width="1.1"/><use href="#cc"/></g>
<g transform="translate(1640.6,1052.4)"><path d="M-2.4 -30.4H2.4L30.4 -2.4V2.4L2.4 30.4H-2.4L-30.4 2.4V-2.4Z" fill="#c55a11" stroke="#7f7f7f" stroke-width="1.1"/><use href="#cc"/></g>
<g transform="translate(1684.6,1052.4)"><path d="M-2.4 -30.4H2.4L30.4 -2.4V2.4L2.4 30.4H-2.4L-30.4 2.4V-2.4Z" fill="#f8cbad" stroke="#7f7f7f" stroke-width="1.1"/><use href="#cc"/></g>
<g transform="translate(1728.6,1052.4)"><path d="M-2.4 -30.4H2.4L30.4 -2.4V2.4L2.4 30.4H-2.4L-30.4 2.4V-2.4Z" fill="#c55a11" stroke="#7f7f7f" stroke-width="1.1"/><use href="#cc"/></g>
<g transform="translate(1772.6,1052.4)"><path d="M-2.4 -30.4H2.4L30.4 -2.4V2.4L2.4 30.4H-2.4L-30.4 2.4V-2.4Z" fill="#f8cbad" stroke="#7f7f7f" stroke-width="1.1"/><use href="#cc"/></g>
<g transform="translate(1816.6,1052.4)"><path d="M-2.4 -30.4H2.4L30.4 -2.4V2.4L2.4 30.4H-2.4L-30.4 2.4V-2.4Z" fill="#f8cbad" stroke="#7f7f7f" stroke-width="1.1"/><use href="#cc"/></g>
<g transform="translate(1860.6,1052.4)"><path d="M-2.4 -30.4H2.4L30.4 -2.4V2.4L2.4 30.4H-2.4L-30.4 2.4V-2.4Z" fill="#f8cbad" stroke="#7f7f7f" stroke-width="1.1"/><use href="#cc"/></g>
<g transform="translate(1904.6,1052.4)"><path d="M-2.4 -30.4H2.4L30.4 -2.4V2.4L2.4 30.4H-2.4L-30.4 2.4V-2.4Z" fill="#ffffff" stroke="#7f7f7f" stroke-width="1.1"/><use href="#cc"/></g>
<g transform="translate(1420.6,1095.7)"><path d="M-2.4 -30.4H2.4L30.4 -2.4V2.4L2.4 30.4H-2.4L-30.4 2.4V-2.4Z" fill="#ffffff" stroke="#7f7f7f" stroke-width="1.1"/><use href="#cc"/></g>
<g transform="translate(1464.6,1095.7)"><path d="M-2.4 -30.4H2.4L30.4 -2.4V2.4L2.4 30.4H-2.4L-30.4 2.4V-2.4Z" fill="#ffffff" stroke="#7f7f7f" stroke-width="1.1"/><use href="#cc"/></g>
<g transform="translate(1508.6,1095.7)"><path d="M-2.4 -30.4H2.4L30.4 -2.4V2.4L2.4 30.4H-2.4L-30.4 2.4V-2.4Z" fill="#ffffff" stroke="#7f7f7f" stroke-width="1.1"/><use href="#cc"/></g>
<g transform="translate(1552.6,1095.7)"><path d="M-2.4 -30.4H2.4L30.4 -2.4V2.4L2.4 30.4H-2.4L-30.4 2.4V-2.4Z" fill="#c55a11" stroke="#7f7f7f" stroke-width="1.1"/><use href="#cc"/></g>
<g transform="translate(1596.6,1095.7)"><path d="M-2.4 -30.4H2.4L30.4 -2.4V2.4L2.4 30.4H-2.4L-30.4 2.4V-2.4Z" fill="#f8cbad" stroke="#7f7f7f" stroke-width="1.1"/><use href="#cc"/></g>
<g transform="translate(1640.6,1095.7)"><path d="M-2.4 -30.4H2.4L30.4 -2.4V2.4L2.4 30.4H-2.4L-30.4 2.4V-2.4Z" fill="#c55a11" stroke="#7f7f7f" stroke-width="1.1"/><use href="#cc"/></g>
<g transform="translate(1684.6,1095.7)"><path d="M-2.4 -30.4H2.4L30.4 -2.4V2.4L2.4 30.4H-2.4L-30.4 2.4V-2.4Z" fill="#c55a11" stroke="#7f7f7f" stroke-width="1.1"/><use href="#cc"/></g>
<g transform="translate(1728.6,1095.7)"><path d="M-2.4 -30.4H2.4L30.4 -2.4V2.4L2.4 30.4H-2.4L-30.4 2.4V-2.4Z" fill="#c55a11" stroke="#7f7f7f" stroke-width="1.1"/><use href="#cc"/></g>
<g transform="translate(1772.6,1095.7)"><path d="M-2.4 -30.4H2.4L30.4 -2.4V2.4L2.4 30.4H-2.4L-30.4 2.4V-2.4Z" fill="#f8cbad" stroke="#7f7f7f" stroke-width="1.1"/><use href="#cc"/></g>
<g transform="translate(1816.6,1095.7)"><path d="M-2.4 -30.4H2.4L30.4 -2.4V2.4L2.4 30.4H-2.4L-30.4 2.4V-2.4Z" fill="#c55a11" stroke="#7f7f7f" stroke-width="1.1"/><use href="#cc"/></g>
<g transform="translate(1860.6,1095.7)"><path d="M-2.4 -30.4H2.4L30.4 -2.4V2.4L2.4 30.4H-2.4L-30.4 2.4V-2.4Z" fill="#ffffff" stroke="#7f7f7f" stroke-width="1.1"/><use href="#cc"/></g>
<g transform="translate(1904.6,1095.7)"><path d="M-2.4 -30.4H2.4L30.4 -2.4V2.4L2.4 30.4H-2.4L-30.4 2.4V-2.4Z" fill="#843c0c" stroke="#7f7f7f" stroke-width="1.1"/><use href="#cc"/></g>
<g transform="translate(1420.6,1139.0)"><path d="M-2.4 -30.4H2.4L30.4 -2.4V2.4L2.4 30.4H-2.4L-30.4 2.4V-2.4Z" fill="#ffffff" stroke="#7f7f7f" stroke-width="1.1"/><use href="#cc"/></g>
<g transform="translate(1464.6,1139.0)"><path d="M-2.4 -30.4H2.4L30.4 -2.4V2.4L2.4 30.4H-2.4L-30.4 2.4V-2.4Z" fill="#ffffff" stroke="#7f7f7f" stroke-width="1.1"/><use href="#cc"/></g>
<g transform="translate(1508.6,1139.0)"><path d="M-2.4 -30.4H2.4L30.4 -2.4V2.4L2.4 30.4H-2.4L-30.4 2.4V-2.4Z" fill="#f8cbad" stroke="#7f7f7f" stroke-width="1.1"/><use href="#cc"/></g>
<g transform="translate(1552.6,1139.0)"><path d="M-2.4 -30.4H2.4L30.4 -2.4V2.4L2.4 30.4H-2.4L-30.4 2.4V-2.4Z" fill="#f8cbad" stroke="#7f7f7f" stroke-width="1.1"/><use href="#cc"/></g>
<g transform="translate(1596.6,1139.0)"><path d="M-2.4 -30.4H2.4L30.4 -2.4V2.4L2.4 30.4H-2.4L-30.4 2.4V-2.4Z" fill="#f8cbad" stroke="#7f7f7f" stroke-width="1.1"/><use href="#cc"/></g>
<g transform="translate(1640.6,1139.0)"><path d="M-2.4 -30.4H2.4L30.4 -2.4V2.4L2.4 30.4H-2.4L-30.4 2.4V-2.4Z" fill="#f8cbad" stroke="#7f7f7f" stroke-width="1.1"/><use href="#cc"/></g>
<g transform="translate(1684.6,1139.0)"><path d="M-2.4 -30.4H2.4L30.4 -2.4V2.4L2.4 30.4H-2.4L-30.4 2.4V-2.4Z" fill="#f8cbad" stroke="#7f7f7f" stroke-width="1.1"/><use href="#cc"/></g>
<g transform="translate(1728.6,1139.0)"><path d="M-2.4 -30.4H2.4L30.4 -2.4V2.4L2.4 30.4H-2.4L-30.4 2.4V-2.4Z" fill="#f8cbad" stroke="#7f7f7f" stroke-width="1.1"/><use href="#cc"/></g>
<g transform="translate(1772.6,1139.0)"><path d="M-2.4 -30.4H2.4L30.4 -2.4V2.4L2.4 30.4H-2.4L-30.4 2.4V-2.4Z" fill="#f8cbad" stroke="#7f7f7f" stroke-width="1.1"/><use href="#cc"/></g>
<g transform="translate(1816.6,1139.0)"><path d="M-2.4 -30.4H2.4L30.4 -2.4V2.4L2.4 30.4H-2.4L-30.4 2.4V-2.4Z" fill="#f8cbad" stroke="#7f7f7f" stroke-width="1.1"/><use href="#cc"/></g>
<g transform="translate(1860.6,1139.0)"><path d="M-2.4 -30.4H2.4L30.4 -2.4V2.4L2.4 30.4H-2.4L-30.4 2.4V-2.4Z" fill="#f8cbad" stroke="#7f7f7f" stroke-width="1.1"/><use href="#cc"/></g>
<g transform="translate(1904.6,1139.0)"><path d="M-2.4 -30.4H2.4L30.4 -2.4V2.4L2.4 30.4H-2.4L-30.4 2.4V-2.4Z" fill="#843c0c" stroke="#7f7f7f" stroke-width="1.1"/><use href="#cc"/></g>
<g transform="translate(1420.6,1183.0)"><path d="M-2.4 -30.4H2.4L30.4 -2.4V2.4L2.4 30.4H-2.4L-30.4 2.4V-2.4Z" fill="#ffffff" stroke="#7f7f7f" stroke-width="1.1"/><use href="#cc"/></g>
<g transform="translate(1464.6,1183.0)"><path d="M-2.4 -30.4H2.4L30.4 -2.4V2.4L2.4 30.4H-2.4L-30.4 2.4V-2.4Z" fill="#f8cbad" stroke="#7f7f7f" stroke-width="1.1"/><use href="#cc"/></g>
<g transform="translate(1508.6,1183.0)"><path d="M-2.4 -30.4H2.4L30.4 -2.4V2.4L2.4 30.4H-2.4L-30.4 2.4V-2.4Z" fill="#ffffff" stroke="#7f7f7f" stroke-width="1.1"/><use href="#cc"/></g>
<g transform="translate(1552.6,1183.0)"><path d="M-2.4 -30.4H2.4L30.4 -2.4V2.4L2.4 30.4H-2.4L-30.4 2.4V-2.4Z" fill="#c55a11" stroke="#7f7f7f" stroke-width="1.1"/><use href="#cc"/></g>
<g transform="translate(1596.6,1183.0)"><path d="M-2.4 -30.4H2.4L30.4 -2.4V2.4L2.4 30.4H-2.4L-30.4 2.4V-2.4Z" fill="#f8cbad" stroke="#7f7f7f" stroke-width="1.1"/><use href="#cc"/></g>
<g transform="translate(1640.6,1183.0)"><path d="M-2.4 -30.4H2.4L30.4 -2.4V2.4L2.4 30.4H-2.4L-30.4 2.4V-2.4Z" fill="#c55a11" stroke="#7f7f7f" stroke-width="1.1"/><use href="#cc"/></g>
<g transform="translate(1684.6,1183.0)"><path d="M-2.4 -30.4H2.4L30.4 -2.4V2.4L2.4 30.4H-2.4L-30.4 2.4V-2.4Z" fill="#f8cbad" stroke="#7f7f7f" stroke-width="1.1"/><use href="#cc"/></g>
<g transform="translate(1728.6,1183.0)"><path d="M-2.4 -30.4H2.4L30.4 -2.4V2.4L2.4 30.4H-2.4L-30.4 2.4V-2.4Z" fill="#c55a11" stroke="#7f7f7f" stroke-width="1.1"/><use href="#cc"/></g>
<g transform="translate(1772.6,1183.0)"><path d="M-2.4 -30.4H2.4L30.4 -2.4V2.4L2.4 30.4H-2.4L-30.4 2.4V-2.4Z" fill="#f8cbad" stroke="#7f7f7f" stroke-width="1.1"/><use href="#cc"/></g>
<g transform="translate(1816.6,1183.0)"><path d="M-2.4 -30.4H2.4L30.4 -2.4V2.4L2.4 30.4H-2.4L-30.4 2.4V-2.4Z" fill="#c55a11" stroke="#7f7f7f" stroke-width="1.1"/><use href="#cc"/></g>
<g transform="translate(1860.6,1183.0)"><path d="M-2.4 -30.4H2.4L30.4 -2.4V2.4L2.4 30.4H-2.4L-30.4 2.4V-2.4Z" fill="#ffffff" stroke="#7f7f7f" stroke-width="1.1"/><use href="#cc"/></g>
<g transform="translate(1904.6,1183.0)"><path d="M-2.4 -30.4H2.4L30.4 -2.4V2.4L2.4 30.4H-2.4L-30.4 2.4V-2.4Z" fill="#ffffff" stroke="#7f7f7f" stroke-width="1.1"/><use href="#cc"/></g>
<g transform="translate(1420.6,1227.5)"><path d="M-2.4 -30.4H2.4L30.4 -2.4V2.4L2.4 30.4H-2.4L-30.4 2.4V-2.4Z" fill="#843c0c" stroke="#7f7f7f" stroke-width="1.1"/><use href="#cc"/></g>
<g transform="translate(1464.6,1227.5)"><path d="M-2.4 -30.4H2.4L30.4 -2.4V2.4L2.4 30.4H-2.4L-30.4 2.4V-2.4Z" fill="#ffffff" stroke="#7f7f7f" stroke-width="1.1"/><use href="#cc"/></g>
<g transform="translate(1508.6,1227.5)"><path d="M-2.4 -30.4H2.4L30.4 -2.4V2.4L2.4 30.4H-2.4L-30.4 2.4V-2.4Z" fill="#f8cbad" stroke="#7f7f7f" stroke-width="1.1"/><use href="#cc"/></g>
<g transform="translate(1552.6,1227.5)"><path d="M-2.4 -30.4H2.4L30.4 -2.4V2.4L2.4 30.4H-2.4L-30.4 2.4V-2.4Z" fill="#ffffff" stroke="#7f7f7f" stroke-width="1.1"/><use href="#cc"/></g>
<g transform="translate(1596.6,1227.5)"><path d="M-2.4 -30.4H2.4L30.4 -2.4V2.4L2.4 30.4H-2.4L-30.4 2.4V-2.4Z" fill="#f8cbad" stroke="#7f7f7f" stroke-width="1.1"/><use href="#cc"/></g>
<g transform="translate(1640.6,1227.5)"><path d="M-2.4 -30.4H2.4L30.4 -2.4V2.4L2.4 30.4H-2.4L-30.4 2.4V-2.4Z" fill="#ffffff" stroke="#7f7f7f" stroke-width="1.1"/><use href="#cc"/></g>
<g transform="translate(1684.6,1227.5)"><path d="M-2.4 -30.4H2.4L30.4 -2.4V2.4L2.4 30.4H-2.4L-30.4 2.4V-2.4Z" fill="#f8cbad" stroke="#7f7f7f" stroke-width="1.1"/><use href="#cc"/></g>
<g transform="translate(1728.6,1227.5)"><path d="M-2.4 -30.4H2.4L30.4 -2.4V2.4L2.4 30.4H-2.4L-30.4 2.4V-2.4Z" fill="#ffffff" stroke="#7f7f7f" stroke-width="1.1"/><use href="#cc"/></g>
<g transform="translate(1772.6,1227.5)"><path d="M-2.4 -30.4H2.4L30.4 -2.4V2.4L2.4 30.4H-2.4L-30.4 2.4V-2.4Z" fill="#f8cbad" stroke="#7f7f7f" stroke-width="1.1"/><use href="#cc"/></g>
<g transform="translate(1816.6,1227.5)"><path d="M-2.4 -30.4H2.4L30.4 -2.4V2.4L2.4 30.4H-2.4L-30.4 2.4V-2.4Z" fill="#ffffff" stroke="#7f7f7f" stroke-width="1.1"/><use href="#cc"/></g>
<g transform="translate(1860.6,1227.5)"><path d="M-2.4 -30.4H2.4L30.4 -2.4V2.4L2.4 30.4H-2.4L-30.4 2.4V-2.4Z" fill="#f8cbad" stroke="#7f7f7f" stroke-width="1.1"/><use href="#cc"/></g>
<g transform="translate(1904.6,1227.5)"><path d="M-2.4 -30.4H2.4L30.4 -2.4V2.4L2.4 30.4H-2.4L-30.4 2.4V-2.4Z" fill="#ffffff" stroke="#7f7f7f" stroke-width="1.1"/><use href="#cc"/></g>
<g transform="translate(1420.6,1273.3)"><path d="M-2.4 -30.4H2.4L30.4 -2.4V2.4L2.4 30.4H-2.4L-30.4 2.4V-2.4Z" fill="#ffffff" stroke="#7f7f7f" stroke-width="1.1"/><use href="#cc"/></g>
<g transform="translate(1464.6,1273.3)"><path d="M-2.4 -30.4H2.4L30.4 -2.4V2.4L2.4 30.4H-2.4L-30.4 2.4V-2.4Z" fill="#ffffff" stroke="#7f7f7f" stroke-width="1.1"/><use href="#cc"/></g>
<g transform="translate(1508.6,1273.3)"><path d="M-2.4 -30.4H2.4L30.4 -2.4V2.4L2.4 30.4H-2.4L-30.4 2.4V-2.4Z" fill="#ffffff" stroke="#7f7f7f" stroke-width="1.1"/><use href="#cc"/></g>
<g transform="translate(1552.6,1273.3)"><path d="M-2.4 -30.4H2.4L30.4 -2.4V2.4L2.4 30.4H-2.4L-30.4 2.4V-2.4Z" fill="#ffffff" stroke="#7f7f7f" stroke-width="1.1"/><use href="#cc"/></g>
<g transform="translate(1596.6,1273.3)"><path d="M-2.4 -30.4H2.4L30.4 -2.4V2.4L2.4 30.4H-2.4L-30.4 2.4V-2.4Z" fill="#ffffff" stroke="#7f7f7f" stroke-width="1.1"/><use href="#cc"/></g>
<g transform="translate(1640.6,1273.3)"><path d="M-2.4 -30.4H2.4L30.4 -2.4V2.4L2.4 30.4H-2.4L-30.4 2.4V-2.4Z" fill="#ffffff" stroke="#7f7f7f" stroke-width="1.1"/><use href="#cc"/></g>
<g transform="translate(1684.6,1273.3)"><path d="M-2.4 -30.4H2.4L30.4 -2.4V2.4L2.4 30.4H-2.4L-30.4 2.4V-2.4Z" fill="#ffffff" stroke="#7f7f7f" stroke-width="1.1"/><use href="#cc"/></g>
<g transform="translate(1728.6,1273.3)"><path d="M-2.4 -30.4H2.4L30.4 -2.4V2.4L2.4 30.4H-2.4L-30.4 2.4V-2.4Z" fill="#ffffff" stroke="#7f7f7f" stroke-width="1.1"/><use href="#cc"/></g>
<g transform="translate(1772.6,1273.3)"><path d="M-2.4 -30.4H2.4L30.4 -2.4V2.4L2.4 30.4H-2.4L-30.4 2.4V-2.4Z" fill="#843c0c" stroke="#7f7f7f" stroke-width="1.1"/><use href="#cc"/></g>
<g transform="translate(1816.6,1273.3)"><path d="M-2.4 -30.4H2.4L30.4 -2.4V2.4L2.4 30.4H-2.4L-30.4 2.4V-2.4Z" fill="#843c0c" stroke="#7f7f7f" stroke-width="1.1"/><use href="#cc"/></g>
<g transform="translate(1860.6,1273.3)"><path d="M-2.4 -30.4H2.4L30.4 -2.4V2.4L2.4 30.4H-2.4L-30.4 2.4V-2.4Z" fill="#ffffff" stroke="#7f7f7f" stroke-width="1.1"/><use href="#cc"/></g>
<g transform="translate(1904.6,1273.3)"><path d="M-2.4 -30.4H2.4L30.4 -2.4V2.4L2.4 30.4H-2.4L-30.4 2.4V-2.4Z" fill="#ffffff" stroke="#7f7f7f" stroke-width="1.1"/><use href="#cc"/></g>
<path d="M983.6 1326L983 1255C983.2 1245 983.8 1235 984.5 1225C986 1192 1008.2 1163.5 1028 1141" fill="none" stroke="#4472c4" stroke-width="9.5" stroke-dasharray="30 11"/>
<path d="M1035.8 1133L1005.6 1143.4L1022 1147.6L1027.1 1163.2Z" fill="#4472c4"/>
<path d="M1456.2 1288.4H1466.5V1318L1461 1323.4H1456.2ZM1456.2 1268.1H1487.7V1278H1456.2ZM1498.8 1268.1H1529.2V1278H1498.8ZM1540.6 1268.1H1571.2V1278H1540.6ZM1582 1268.1H1594V1278H1582Z" fill="#ed7d31"/>
<path d="M1616.1 1273.1L1586 1258.6L1592.9 1273.1L1586 1287.7Z" fill="#ed7d31"/>
<g class="sh2" fill="#4472c4" font-size="50.2"><text x="897" y="1384">MeOH</text></g>
<g class="sh2" fill="#ed7d31" font-size="50.2"><text x="1411" y="1385.4">MeOH</text></g>
<g class="sh2" fill="#4472c4" font-size="50" transform="translate(781 1227.5) rotate(-90)"><text>Low-Temperature</text></g>
<g class="sh2" fill="#ed7d31" font-size="50" transform="translate(2008.8 1235.7) rotate(-90)"><text>High-Temperature</text></g>
</g>
</svg></body></html>
